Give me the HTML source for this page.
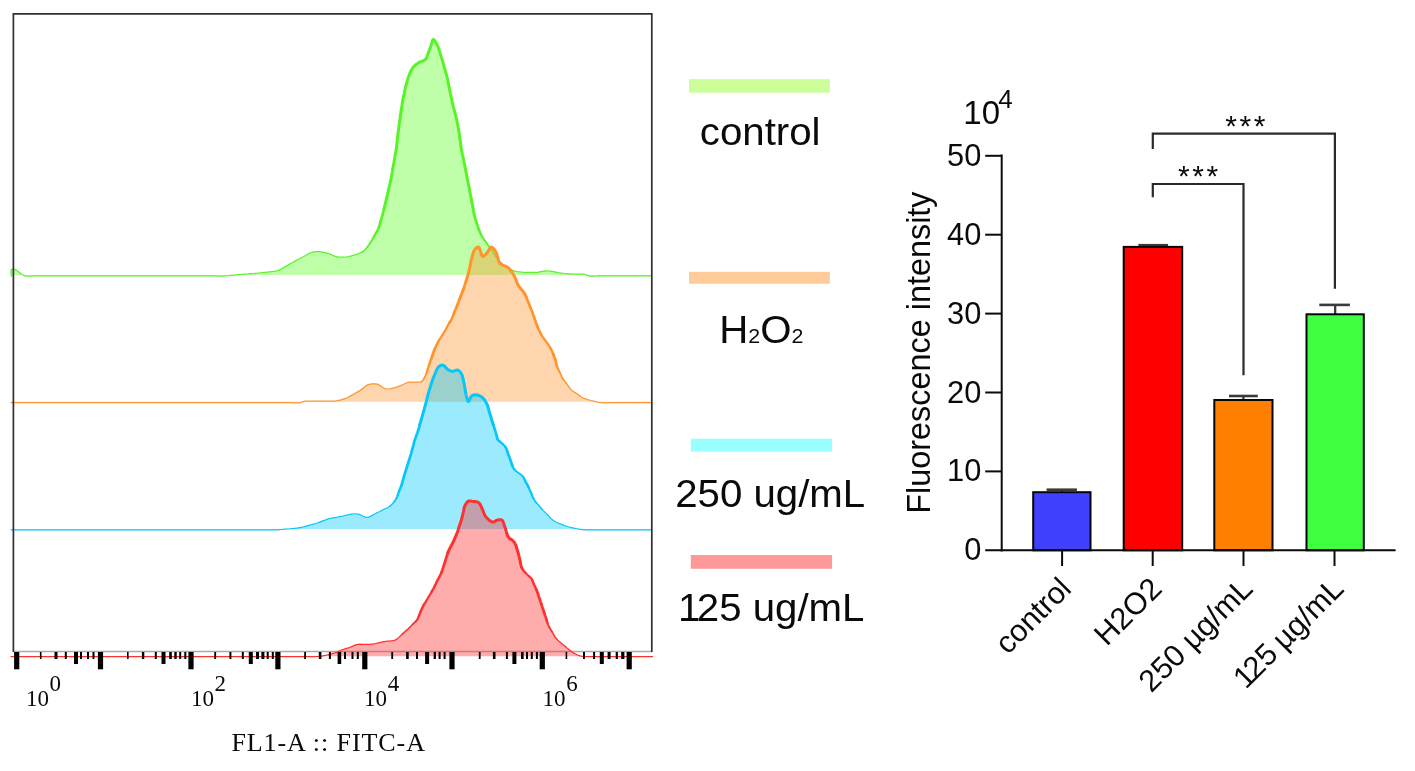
<!DOCTYPE html>
<html lang="en">
<head>
<meta charset="utf-8">
<title>Fluorescence intensity figure</title>
<style>
html,body{margin:0;padding:0;background:#fff;}
body{width:1415px;height:771px;overflow:hidden;}
svg{display:block;}
text{fill:#0a0a0a;}
</style>
</head>
<body>
<svg width="1415" height="771" viewBox="0 0 1415 771">
<rect width="1415" height="771" fill="#fff"/>
<!-- flow histogram -->
<line x1="13.4" y1="651.5" x2="652" y2="651.5" stroke="#aaaaaa" stroke-width="1.6"/>
<polygon points="11.4,276.2 11.3,275.3 11.1,273.1 11.0,270.8 11.4,269.3 12.8,269.0 14.5,269.3 15.7,269.8 16.8,270.6 18.0,271.5 19.3,272.5 20.7,273.6 22.0,274.5 23.6,275.3 25.5,275.9 26.8,276.1 28.3,276.1 30.0,276.1 31.8,276.1 33.7,276.0 35.5,275.9 37.2,275.9 38.9,275.9 40.6,275.9 42.3,275.9 43.9,275.9 45.6,275.9 47.3,275.9 49.0,275.9 50.6,275.9 52.3,275.9 54.0,275.9 55.7,275.9 57.4,275.9 59.0,275.9 60.7,275.9 62.4,275.9 64.1,275.9 65.7,275.9 67.4,275.9 69.1,275.9 70.8,275.9 72.4,275.9 74.1,275.9 75.8,275.9 77.5,275.9 79.1,275.9 80.8,275.9 82.5,275.9 84.2,275.9 85.9,275.9 87.5,275.9 89.2,275.9 90.9,275.9 92.6,275.9 94.2,275.9 95.9,275.9 97.6,275.9 99.3,275.9 100.9,275.9 102.6,275.9 104.3,275.9 106.0,275.9 107.6,275.9 109.3,275.9 111.0,275.9 112.7,275.9 114.4,275.9 116.0,275.9 117.7,275.9 119.4,275.9 121.1,275.9 122.7,275.9 124.4,275.9 126.1,275.9 127.8,275.9 129.4,275.9 131.1,275.9 132.8,275.9 134.5,275.9 136.1,275.9 137.8,275.9 139.5,275.9 141.2,275.9 142.9,275.9 144.5,275.9 146.2,275.9 147.9,275.9 149.6,275.9 151.2,275.9 152.9,275.9 154.6,275.9 156.3,275.9 157.9,275.9 159.6,275.9 161.3,275.9 163.0,275.9 164.6,275.9 166.3,275.9 168.0,275.9 169.7,275.9 171.4,275.9 173.0,275.9 174.7,275.9 176.4,275.9 178.1,275.9 179.7,275.9 181.4,275.9 183.1,275.9 184.8,275.9 186.4,275.9 188.1,275.9 189.8,275.9 191.5,275.9 193.1,275.9 194.8,275.9 196.5,275.9 198.2,275.9 199.9,275.9 201.5,275.9 203.2,275.9 204.9,275.9 206.6,275.9 208.2,275.9 209.9,275.9 211.6,275.9 213.3,275.9 215.0,275.9 216.7,275.9 218.4,276.0 220.2,276.0 221.8,276.0 223.5,276.0 225.0,275.9 226.6,275.8 228.1,275.7 229.6,275.5 231.0,275.3 232.5,275.2 234.0,275.1 235.5,274.9 237.0,274.8 238.5,274.6 240.0,274.5 241.7,274.4 243.4,274.2 245.1,274.1 246.8,274.0 248.6,273.9 250.3,273.7 252.0,273.6 253.8,273.5 255.5,273.3 257.1,273.2 258.8,273.0 260.4,272.9 262.0,272.7 263.6,272.5 265.1,272.3 266.7,272.2 268.3,272.0 270.0,271.8 271.6,271.6 273.3,271.4 275.1,271.1 276.8,270.8 278.5,270.3 280.0,269.7 281.4,268.9 282.9,268.1 284.3,267.2 285.7,266.4 287.0,265.6 288.3,264.9 289.6,264.1 290.9,263.4 292.2,262.8 293.4,262.1 294.7,261.3 296.0,260.6 297.3,259.9 298.6,259.2 299.9,258.5 301.3,257.7 302.8,257.0 304.2,256.2 305.6,255.5 307.0,254.7 308.4,253.9 309.8,253.1 311.3,252.5 312.8,252.1 314.4,251.8 316.0,251.6 317.7,251.6 319.1,251.7 320.6,251.8 322.2,252.1 323.8,252.4 325.4,252.7 326.9,253.1 328.4,253.5 329.9,254.0 331.3,254.6 332.8,255.3 334.2,255.9 335.6,256.4 337.0,256.8 338.7,257.1 340.4,257.2 342.1,257.2 343.8,257.2 345.6,257.0 347.2,256.8 348.8,256.5 350.5,256.1 352.3,255.7 353.9,255.2 355.5,254.7 357.0,254.2 358.6,253.6 360.0,253.0 361.4,252.4 362.8,251.6 364.1,250.6 365.2,249.6 366.3,248.3 367.4,247.0 368.4,245.5 369.4,244.1 370.4,242.7 371.2,241.4 372.0,240.1 372.8,238.8 373.4,237.5 374.1,236.2 374.8,234.9 375.5,233.7 376.3,232.4 377.1,231.1 377.8,229.8 378.4,228.5 378.9,227.1 379.4,225.7 379.8,224.3 380.1,222.8 380.5,221.4 381.0,220.0 381.4,218.6 381.9,217.1 382.3,215.7 382.7,214.3 383.1,212.9 383.4,211.4 383.8,210.0 384.1,208.6 384.4,207.2 384.8,205.7 385.1,204.4 385.5,203.0 385.8,201.5 386.2,200.0 386.5,198.5 386.9,196.9 387.3,195.3 387.7,193.6 388.0,191.9 388.4,190.2 388.8,188.5 389.2,186.8 389.6,185.2 390.0,183.5 390.3,181.9 390.7,180.2 391.1,178.6 391.4,177.0 391.7,175.4 392.0,173.8 392.3,172.2 392.5,170.6 392.8,169.1 393.0,167.5 393.3,165.9 393.6,164.3 393.9,162.8 394.1,161.2 394.4,159.6 394.7,158.0 394.9,156.4 395.2,154.8 395.5,153.2 395.8,151.7 396.1,150.1 396.3,148.5 396.5,146.9 396.7,145.4 396.9,143.8 397.1,142.3 397.2,140.7 397.4,139.2 397.6,137.6 397.8,136.0 397.9,134.4 398.1,132.9 398.3,131.3 398.5,129.8 398.7,128.2 398.9,126.6 399.1,125.0 399.3,123.5 399.6,121.9 399.8,120.3 400.0,118.7 400.2,117.1 400.4,115.6 400.6,114.0 400.9,112.2 401.1,110.4 401.4,108.7 401.7,107.0 402.0,105.2 402.2,103.4 402.5,101.6 402.8,99.9 403.1,98.3 403.5,96.7 403.8,95.1 404.2,93.5 404.5,91.9 404.8,90.3 405.2,88.7 405.6,87.0 405.9,85.7 406.3,84.3 406.7,82.8 407.1,81.3 407.5,79.9 408.0,78.4 408.5,77.0 409.1,75.4 409.7,73.7 410.4,72.1 411.1,70.6 411.9,69.1 412.8,67.8 413.8,66.6 414.9,65.5 416.0,64.6 417.3,63.7 418.5,62.8 419.9,62.0 421.5,61.4 423.0,60.8 424.4,60.1 425.6,59.2 426.6,57.8 427.3,56.2 427.8,54.5 428.4,52.8 429.0,51.1 429.7,49.4 430.3,47.7 430.9,46.0 431.5,44.1 432.1,41.9 432.7,40.1 433.4,39.3 434.6,40.3 435.8,42.3 436.5,43.5 437.2,44.9 437.8,46.3 438.4,47.8 439.0,49.4 439.5,51.1 440.0,52.9 440.5,54.6 441.1,56.3 441.6,58.0 442.2,59.7 442.7,61.4 443.1,62.9 443.6,64.5 444.0,66.1 444.4,67.6 444.9,69.2 445.3,70.8 445.7,72.3 446.2,73.8 446.6,75.4 447.0,77.0 447.4,78.7 447.8,80.4 448.1,82.1 448.4,83.9 448.8,85.6 449.2,87.3 449.5,89.1 449.9,90.8 450.2,92.5 450.6,94.2 450.9,95.7 451.2,97.1 451.6,98.5 451.9,99.9 452.2,101.3 452.5,102.7 452.8,104.1 453.1,105.4 453.4,106.9 453.8,108.4 454.2,109.9 454.6,111.5 455.0,113.2 455.5,114.9 455.9,116.7 456.3,118.4 456.7,120.0 457.1,121.7 457.4,123.3 457.7,125.0 458.0,126.6 458.3,128.2 458.6,129.8 458.9,131.4 459.1,132.9 459.3,134.5 459.5,136.0 459.7,137.6 460.0,139.2 460.2,140.7 460.4,142.3 460.6,143.8 460.8,145.4 461.0,146.9 461.3,148.5 461.6,150.1 461.9,151.7 462.2,153.2 462.5,154.8 462.9,156.4 463.2,158.0 463.5,159.6 463.8,161.2 464.2,162.8 464.5,164.3 464.8,165.9 465.1,167.5 465.4,169.1 465.7,170.7 466.1,172.3 466.4,173.9 466.7,175.4 467.0,177.0 467.3,178.5 467.6,180.0 467.9,181.5 468.2,183.0 468.5,184.5 468.8,186.0 469.1,187.5 469.4,189.0 469.7,190.5 469.9,192.0 470.2,193.5 470.5,195.0 470.8,196.5 471.1,198.1 471.4,199.6 471.7,201.1 472.0,202.6 472.3,204.0 472.6,205.6 472.9,207.2 473.2,208.7 473.5,210.2 473.7,211.8 474.0,213.4 474.2,214.9 474.6,216.5 475.1,218.2 475.6,219.9 476.2,221.6 476.8,223.2 477.3,224.9 477.8,226.6 478.4,228.3 479.0,230.0 479.6,231.3 480.2,232.7 480.8,234.0 481.5,235.4 482.2,236.7 483.0,238.0 483.8,239.3 484.8,240.6 485.7,241.9 486.7,243.1 487.6,244.4 488.5,245.6 489.4,246.9 490.3,248.2 491.1,249.5 492.0,250.8 492.8,252.1 493.6,253.4 494.5,254.7 495.3,256.0 496.2,257.3 497.1,258.5 498.1,259.7 499.3,260.9 500.4,262.0 501.6,263.1 502.8,264.2 504.2,265.4 505.6,266.5 507.0,267.6 508.5,268.5 509.9,269.2 511.2,269.9 512.6,270.4 514.2,270.9 515.7,271.3 517.4,271.6 519.1,271.8 520.9,272.0 522.6,272.2 524.2,272.3 525.9,272.4 527.5,272.4 529.0,272.3 530.6,272.3 532.2,272.3 533.7,272.4 535.3,272.4 537.0,272.3 538.7,272.1 540.4,271.7 542.2,271.4 544.0,271.1 545.6,270.9 547.1,270.9 548.5,271.0 549.8,271.1 551.3,271.3 552.9,271.6 554.7,271.9 556.4,272.3 558.2,272.7 559.9,273.0 561.7,273.2 563.5,273.4 565.2,273.5 567.0,273.6 568.7,273.8 570.4,273.9 572.2,274.1 574.1,274.2 575.7,274.2 577.4,274.2 579.2,274.2 581.0,274.2 582.7,274.2 584.3,274.3 585.5,274.5 587.0,275.2 588.4,275.9 589.5,276.1 590.9,276.1 592.4,276.1 594.0,276.1 595.7,276.0 597.3,275.9 598.9,275.9 600.4,275.9 601.9,275.9 603.4,275.9 604.8,275.9 606.3,275.9 607.8,275.9 609.3,275.9 610.8,275.9 612.3,275.9 613.8,275.9 615.3,275.9 616.8,275.9 618.3,275.9 619.8,275.9 621.3,275.9 622.8,275.9 624.3,275.9 625.8,275.9 627.3,275.9 628.8,275.9 630.3,275.9 631.8,275.9 633.3,275.9 634.8,275.9 636.2,275.9 637.7,275.9 639.2,275.9 640.7,275.9 642.4,275.9 644.3,275.9 646.3,275.9 648.2,275.9 649.7,275.9 650.8,275.9 651.2,275.9 651.2,275.0 11.4,275.0" fill="#60ff28" fill-opacity="0.4"/>
<g fill="none" stroke="#58f328" stroke-linejoin="round" stroke-linecap="round">
<polyline stroke-width="1.25" points="11.4,276.2 11.3,275.3 11.1,273.1 11.0,270.8 11.4,269.3 12.8,269.0 14.5,269.3 15.7,269.8 16.8,270.6 18.0,271.5 19.3,272.5 20.7,273.6 22.0,274.5 23.6,275.3 25.5,275.9 26.8,276.1 28.3,276.1 30.0,276.1 31.8,276.1 33.7,276.0 35.5,275.9 37.2,275.9 38.9,275.9 40.6,275.9 42.3,275.9 43.9,275.9 45.6,275.9 47.3,275.9 49.0,275.9 50.6,275.9 52.3,275.9 54.0,275.9 55.7,275.9 57.4,275.9 59.0,275.9 60.7,275.9 62.4,275.9 64.1,275.9 65.7,275.9 67.4,275.9 69.1,275.9 70.8,275.9 72.4,275.9 74.1,275.9 75.8,275.9 77.5,275.9 79.1,275.9 80.8,275.9 82.5,275.9 84.2,275.9 85.9,275.9 87.5,275.9 89.2,275.9 90.9,275.9 92.6,275.9 94.2,275.9 95.9,275.9 97.6,275.9 99.3,275.9 100.9,275.9 102.6,275.9 104.3,275.9 106.0,275.9 107.6,275.9 109.3,275.9 111.0,275.9 112.7,275.9 114.4,275.9 116.0,275.9 117.7,275.9 119.4,275.9 121.1,275.9 122.7,275.9 124.4,275.9 126.1,275.9 127.8,275.9 129.4,275.9 131.1,275.9 132.8,275.9 134.5,275.9 136.1,275.9 137.8,275.9 139.5,275.9 141.2,275.9 142.9,275.9 144.5,275.9 146.2,275.9 147.9,275.9 149.6,275.9 151.2,275.9 152.9,275.9 154.6,275.9 156.3,275.9 157.9,275.9 159.6,275.9 161.3,275.9 163.0,275.9 164.6,275.9 166.3,275.9 168.0,275.9 169.7,275.9 171.4,275.9 173.0,275.9 174.7,275.9 176.4,275.9 178.1,275.9 179.7,275.9 181.4,275.9 183.1,275.9 184.8,275.9 186.4,275.9 188.1,275.9 189.8,275.9 191.5,275.9 193.1,275.9 194.8,275.9 196.5,275.9 198.2,275.9 199.9,275.9 201.5,275.9 203.2,275.9 204.9,275.9 206.6,275.9 208.2,275.9 209.9,275.9 211.6,275.9 213.3,275.9 215.0,275.9 216.7,275.9 218.4,276.0 220.2,276.0 221.8,276.0 223.5,276.0 225.0,275.9 226.6,275.8 228.1,275.7 229.6,275.5 231.0,275.3 232.5,275.2 234.0,275.1 235.5,274.9 237.0,274.8 238.5,274.6 240.0,274.5 241.7,274.4 243.4,274.2 245.1,274.1 246.8,274.0 248.6,273.9 250.3,273.7 252.0,273.6 253.8,273.5 255.5,273.3 257.1,273.2 258.8,273.0 260.4,272.9 262.0,272.7 263.6,272.5 265.1,272.3 266.7,272.2 268.3,272.0 270.0,271.8 271.6,271.6 273.3,271.4 275.1,271.1 276.8,270.8 278.5,270.3 280.0,269.7 281.4,268.9 282.9,268.1 284.3,267.2 285.7,266.4 287.0,265.6 288.3,264.9 289.6,264.1 290.9,263.4 292.2,262.8 293.4,262.1 294.7,261.3 296.0,260.6 297.3,259.9 298.6,259.2 299.9,258.5 301.3,257.7 302.8,257.0 304.2,256.2 305.6,255.5 307.0,254.7 308.4,253.9 309.8,253.1 311.3,252.5 312.8,252.1 314.4,251.8 316.0,251.6 317.7,251.6 319.1,251.7 320.6,251.8 322.2,252.1 323.8,252.4 325.4,252.7 326.9,253.1 328.4,253.5 329.9,254.0 331.3,254.6 332.8,255.3 334.2,255.9 335.6,256.4 337.0,256.8 338.7,257.1 340.4,257.2 342.1,257.2 343.8,257.2 345.6,257.0 347.2,256.8 348.8,256.5 350.5,256.1 352.3,255.7 353.9,255.2 355.5,254.7 357.0,254.2 358.6,253.6 360.0,253.0 361.4,252.4 362.8,251.6"/>
<polyline stroke-width="1.5" points="362.8,251.6 364.1,250.6 365.2,249.6 366.3,248.3 367.4,247.0"/>
<polyline stroke-width="1.75" points="367.4,247.0 368.4,245.5 369.4,244.1 370.4,242.7"/>
<polyline stroke-width="2" points="370.4,242.7 371.2,241.4 372.0,240.1 372.8,238.8 373.4,237.5"/>
<polyline stroke-width="2.25" points="373.4,237.5 374.1,236.2 374.8,234.9 375.5,233.7 376.3,232.4 377.1,231.1"/>
<polyline stroke-width="2.5" points="377.1,231.1 377.8,229.8 378.4,228.5 378.9,227.1"/>
<polyline stroke-width="2.75" points="378.9,227.1 379.4,225.7 379.8,224.3 380.1,222.8 380.5,221.4 381.0,220.0 381.4,218.6 381.9,217.1 382.3,215.7 382.7,214.3 383.1,212.9 383.4,211.4 383.8,210.0 384.1,208.6"/>
<polyline stroke-width="3" points="384.1,208.6 384.4,207.2 384.8,205.7 385.1,204.4 385.5,203.0 385.8,201.5 386.2,200.0 386.5,198.5 386.9,196.9 387.3,195.3 387.7,193.6 388.0,191.9 388.4,190.2 388.8,188.5 389.2,186.8 389.6,185.2 390.0,183.5 390.3,181.9 390.7,180.2 391.1,178.6 391.4,177.0 391.7,175.4 392.0,173.8 392.3,172.2 392.5,170.6 392.8,169.1 393.0,167.5 393.3,165.9 393.6,164.3 393.9,162.8 394.1,161.2 394.4,159.6 394.7,158.0 394.9,156.4 395.2,154.8 395.5,153.2 395.8,151.7 396.1,150.1 396.3,148.5 396.5,146.9 396.7,145.4 396.9,143.8 397.1,142.3 397.2,140.7 397.4,139.2 397.6,137.6 397.8,136.0 397.9,134.4 398.1,132.9 398.3,131.3 398.5,129.8 398.7,128.2 398.9,126.6 399.1,125.0 399.3,123.5 399.6,121.9 399.8,120.3 400.0,118.7 400.2,117.1 400.4,115.6 400.6,114.0 400.9,112.2 401.1,110.4 401.4,108.7 401.7,107.0 402.0,105.2 402.2,103.4 402.5,101.6 402.8,99.9 403.1,98.3 403.5,96.7 403.8,95.1 404.2,93.5 404.5,91.9 404.8,90.3 405.2,88.7 405.6,87.0 405.9,85.7 406.3,84.3 406.7,82.8 407.1,81.3 407.5,79.9 408.0,78.4 408.5,77.0 409.1,75.4 409.7,73.7 410.4,72.1 411.1,70.6 411.9,69.1 412.8,67.8 413.8,66.6 414.9,65.5 416.0,64.6 417.3,63.7 418.5,62.8 419.9,62.0 421.5,61.4 423.0,60.8 424.4,60.1 425.6,59.2 426.6,57.8 427.3,56.2 427.8,54.5 428.4,52.8 429.0,51.1 429.7,49.4 430.3,47.7 430.9,46.0 431.5,44.1 432.1,41.9 432.7,40.1 433.4,39.3 434.6,40.3 435.8,42.3 436.5,43.5 437.2,44.9 437.8,46.3 438.4,47.8 439.0,49.4 439.5,51.1 440.0,52.9 440.5,54.6 441.1,56.3 441.6,58.0 442.2,59.7 442.7,61.4 443.1,62.9 443.6,64.5 444.0,66.1 444.4,67.6 444.9,69.2 445.3,70.8 445.7,72.3 446.2,73.8 446.6,75.4 447.0,77.0 447.4,78.7 447.8,80.4 448.1,82.1 448.4,83.9 448.8,85.6 449.2,87.3 449.5,89.1 449.9,90.8 450.2,92.5 450.6,94.2 450.9,95.7 451.2,97.1 451.6,98.5 451.9,99.9 452.2,101.3 452.5,102.7 452.8,104.1 453.1,105.4 453.4,106.9 453.8,108.4 454.2,109.9 454.6,111.5 455.0,113.2 455.5,114.9 455.9,116.7 456.3,118.4 456.7,120.0 457.1,121.7 457.4,123.3 457.7,125.0 458.0,126.6 458.3,128.2 458.6,129.8 458.9,131.4 459.1,132.9 459.3,134.5 459.5,136.0 459.7,137.6 460.0,139.2 460.2,140.7 460.4,142.3 460.6,143.8 460.8,145.4 461.0,146.9 461.3,148.5 461.6,150.1 461.9,151.7 462.2,153.2 462.5,154.8 462.9,156.4 463.2,158.0 463.5,159.6 463.8,161.2 464.2,162.8 464.5,164.3 464.8,165.9 465.1,167.5 465.4,169.1 465.7,170.7 466.1,172.3 466.4,173.9 466.7,175.4 467.0,177.0 467.3,178.5 467.6,180.0 467.9,181.5 468.2,183.0 468.5,184.5 468.8,186.0 469.1,187.5 469.4,189.0 469.7,190.5 469.9,192.0 470.2,193.5 470.5,195.0 470.8,196.5 471.1,198.1 471.4,199.6 471.7,201.1 472.0,202.6 472.3,204.0 472.6,205.6 472.9,207.2 473.2,208.7 473.5,210.2 473.7,211.8 474.0,213.4 474.2,214.9"/>
<polyline stroke-width="2.75" points="474.2,214.9 474.6,216.5 475.1,218.2 475.6,219.9 476.2,221.6 476.8,223.2 477.3,224.9 477.8,226.6 478.4,228.3 479.0,230.0"/>
<polyline stroke-width="2.5" points="479.0,230.0 479.6,231.3 480.2,232.7 480.8,234.0"/>
<polyline stroke-width="2.25" points="480.8,234.0 481.5,235.4 482.2,236.7"/>
<polyline stroke-width="2" points="482.2,236.7 483.0,238.0 483.8,239.3 484.8,240.6"/>
<polyline stroke-width="1.75" points="484.8,240.6 485.7,241.9 486.7,243.1 487.6,244.4 488.5,245.6 489.4,246.9 490.3,248.2"/>
<polyline stroke-width="1.5" points="490.3,248.2 491.1,249.5 492.0,250.8 492.8,252.1 493.6,253.4 494.5,254.7 495.3,256.0 496.2,257.3"/>
<polyline stroke-width="1.25" points="496.2,257.3 497.1,258.5 498.1,259.7 499.3,260.9 500.4,262.0 501.6,263.1 502.8,264.2 504.2,265.4 505.6,266.5 507.0,267.6 508.5,268.5 509.9,269.2 511.2,269.9 512.6,270.4 514.2,270.9 515.7,271.3 517.4,271.6 519.1,271.8 520.9,272.0 522.6,272.2 524.2,272.3 525.9,272.4 527.5,272.4 529.0,272.3 530.6,272.3 532.2,272.3 533.7,272.4 535.3,272.4 537.0,272.3 538.7,272.1 540.4,271.7 542.2,271.4 544.0,271.1 545.6,270.9 547.1,270.9 548.5,271.0 549.8,271.1 551.3,271.3 552.9,271.6 554.7,271.9 556.4,272.3 558.2,272.7 559.9,273.0 561.7,273.2 563.5,273.4 565.2,273.5 567.0,273.6 568.7,273.8 570.4,273.9 572.2,274.1 574.1,274.2 575.7,274.2 577.4,274.2 579.2,274.2 581.0,274.2 582.7,274.2 584.3,274.3 585.5,274.5 587.0,275.2 588.4,275.9 589.5,276.1 590.9,276.1 592.4,276.1 594.0,276.1 595.7,276.0 597.3,275.9 598.9,275.9 600.4,275.9 601.9,275.9 603.4,275.9 604.8,275.9 606.3,275.9 607.8,275.9 609.3,275.9 610.8,275.9 612.3,275.9 613.8,275.9 615.3,275.9 616.8,275.9 618.3,275.9 619.8,275.9 621.3,275.9 622.8,275.9 624.3,275.9 625.8,275.9 627.3,275.9 628.8,275.9 630.3,275.9 631.8,275.9 633.3,275.9 634.8,275.9 636.2,275.9 637.7,275.9 639.2,275.9 640.7,275.9 642.4,275.9 644.3,275.9 646.3,275.9 648.2,275.9 649.7,275.9 650.8,275.9 651.2,275.9"/>
</g>
<polygon points="11.1,402.7 11.5,402.7 12.7,402.7 14.4,402.7 16.5,402.7 18.7,402.7 20.8,402.7 22.7,402.7 24.3,402.7 26.0,402.7 27.6,402.7 29.3,402.7 30.9,402.7 32.6,402.7 34.2,402.7 35.9,402.7 37.5,402.7 39.2,402.7 40.8,402.7 42.5,402.7 44.1,402.7 45.8,402.7 47.4,402.7 49.1,402.7 50.7,402.7 52.4,402.7 54.0,402.7 55.7,402.7 57.3,402.7 59.0,402.7 60.6,402.7 62.3,402.7 63.9,402.7 65.6,402.7 67.2,402.7 68.9,402.7 70.5,402.7 72.2,402.7 73.8,402.7 75.5,402.7 77.1,402.7 78.8,402.7 80.4,402.7 82.1,402.7 83.7,402.7 85.4,402.7 87.0,402.7 88.7,402.7 90.3,402.7 92.0,402.7 93.6,402.7 95.3,402.7 96.9,402.7 98.6,402.7 100.2,402.7 101.9,402.7 103.5,402.7 105.2,402.7 106.8,402.7 108.5,402.7 110.2,402.7 111.8,402.7 113.5,402.7 115.1,402.7 116.8,402.7 118.4,402.7 120.1,402.7 121.7,402.7 123.4,402.7 125.0,402.7 126.7,402.7 128.3,402.7 130.0,402.7 131.6,402.7 133.3,402.7 134.9,402.7 136.6,402.7 138.2,402.7 139.9,402.7 141.5,402.7 143.2,402.7 144.8,402.7 146.5,402.7 148.1,402.7 149.8,402.7 151.4,402.7 153.1,402.7 154.7,402.7 156.4,402.7 158.0,402.7 159.7,402.7 161.3,402.7 163.0,402.7 164.6,402.7 166.3,402.7 167.9,402.7 169.6,402.7 171.2,402.7 172.9,402.7 174.5,402.7 176.2,402.7 177.8,402.7 179.5,402.7 181.1,402.7 182.8,402.7 184.4,402.7 186.1,402.7 187.7,402.7 189.4,402.7 191.0,402.7 192.7,402.7 194.3,402.7 196.0,402.7 197.6,402.7 199.3,402.7 200.9,402.7 202.6,402.7 204.3,402.7 205.9,402.7 207.6,402.7 209.2,402.7 210.9,402.7 212.5,402.7 214.2,402.7 215.8,402.7 217.5,402.7 219.1,402.7 220.8,402.7 222.4,402.7 224.1,402.7 225.7,402.7 227.4,402.7 229.0,402.7 230.7,402.7 232.3,402.7 234.0,402.7 235.6,402.7 237.3,402.7 238.9,402.7 240.6,402.7 242.2,402.7 243.9,402.7 245.5,402.7 247.2,402.7 248.8,402.7 250.5,402.7 252.1,402.7 253.8,402.7 255.4,402.7 257.1,402.7 258.7,402.7 260.4,402.7 262.0,402.7 263.7,402.7 265.3,402.7 267.0,402.7 268.6,402.7 270.3,402.7 271.9,402.7 273.6,402.7 275.2,402.7 276.9,402.7 278.5,402.7 280.2,402.7 281.8,402.7 283.5,402.7 285.1,402.7 286.8,402.7 288.4,402.7 290.1,402.7 291.9,402.8 293.7,402.8 295.5,402.9 297.1,402.9 298.7,402.8 300.0,402.7 301.5,402.3 302.8,401.7 304.3,401.3 305.5,401.2 306.9,401.1 308.5,401.1 310.0,401.1 311.6,401.2 313.2,401.2 314.8,401.2 316.3,401.2 317.8,401.2 319.3,401.2 320.7,401.1 322.2,401.1 323.7,401.1 325.2,401.1 326.7,401.1 328.2,401.2 329.7,401.2 331.2,401.2 332.7,401.2 334.2,401.2 335.7,401.0 337.3,400.7 339.0,400.3 340.8,399.9 342.5,399.4 344.1,398.8 345.7,398.3 347.1,397.7 348.5,397.0 349.8,396.3 351.0,395.6 352.3,394.9 353.5,394.1 354.8,393.5 356.0,392.8 357.3,392.1 358.6,391.4 359.9,390.6 361.1,389.8 362.3,388.8 363.5,387.8 364.7,386.8 365.9,385.9 367.2,385.1 368.5,384.5 370.2,384.1 371.9,383.8 373.6,383.8 375.3,383.9 377.0,384.2 378.5,384.7 379.9,385.6 381.4,386.5 382.8,387.5 384.2,388.3 385.6,388.8 387.4,389.0 389.2,388.9 390.9,388.6 392.7,388.2 394.1,387.9 395.6,387.4 397.0,387.0 398.4,386.4 399.9,385.9 401.3,385.3 402.7,384.7 404.2,384.0 405.6,383.3 407.0,382.7 408.4,382.3 410.1,382.0 411.7,382.0 413.3,382.0 414.9,382.0 416.5,382.0 418.2,382.1 419.9,382.0 421.3,381.6 422.3,380.8 423.3,379.7 424.1,378.3 424.8,376.9 425.5,375.6 426.2,374.0 426.7,372.4 427.2,370.8 427.6,369.2 428.2,367.6 428.7,366.0 429.3,364.4 429.8,362.8 430.3,361.3 430.9,359.8 431.4,358.3 432.0,356.8 432.5,355.3 433.0,353.8 433.5,352.3 434.1,350.7 434.7,349.2 435.4,347.6 436.1,346.0 436.9,344.4 437.7,342.8 438.4,341.4 439.3,339.9 440.2,338.4 441.1,337.1 441.9,335.7 442.8,334.3 443.8,332.9 444.6,331.4 445.5,330.0 446.3,328.5 447.0,327.0 447.8,325.6 448.5,324.2 449.4,322.8 450.3,321.5 451.2,320.0 451.8,318.7 452.4,317.3 453.0,315.8 453.6,314.3 454.1,312.8 454.7,311.4 455.3,310.0 455.9,308.5 456.5,307.1 457.1,305.6 457.7,304.1 458.3,302.6 458.9,301.0 459.5,299.5 460.1,297.9 460.6,296.4 461.3,294.8 461.9,293.2 462.5,291.7 463.1,290.1 463.7,288.6 464.2,287.1 464.7,285.6 465.1,284.2 465.5,282.8 465.9,281.4 466.4,280.0 466.8,278.5 467.2,277.1 467.7,275.7 468.1,274.3 468.5,272.8 468.9,271.3 469.2,269.7 469.6,268.1 469.9,266.5 470.2,265.0 470.6,263.4 470.9,261.8 471.2,260.2 471.6,258.7 472.0,257.1 472.5,255.4 473.0,253.7 473.5,252.0 474.1,250.5 474.9,249.3 476.0,248.1 477.3,247.3 478.5,247.1 479.3,247.9 480.0,249.7 480.6,251.8 481.2,253.9 481.9,255.6 482.7,256.4 483.7,256.2 484.8,255.2 485.9,254.0 487.0,252.8 488.1,251.2 489.2,249.4 490.2,247.8 491.3,247.1 492.4,247.5 493.6,248.6 494.7,250.0 495.6,251.4 496.3,252.8 496.8,254.3 497.3,255.9 497.8,257.4 498.2,259.0 498.6,260.6 499.1,262.1 499.9,263.5 501.0,264.4 502.4,265.1 503.9,265.6 505.5,266.2 507.1,266.9 508.4,267.8 509.5,268.9 510.6,270.1 511.5,271.4 512.4,272.8 513.3,274.2 514.1,275.6 514.8,277.0 515.4,278.4 516.0,279.9 516.5,281.4 517.1,282.9 517.7,284.3 518.4,285.6 519.3,286.9 520.3,288.1 521.3,289.3 522.3,290.4 523.3,291.6 524.1,292.8 524.9,294.2 525.6,295.7 526.2,297.1 526.8,298.6 527.4,300.0 528.1,301.7 528.8,303.3 529.4,305.0 530.0,306.6 530.7,308.2 531.4,309.9 532.1,311.5 532.7,313.2 533.3,314.9 533.9,316.5 534.5,318.2 535.0,319.9 535.6,321.5 536.1,323.1 536.7,324.8 537.4,326.5 538.0,328.0 538.7,329.5 539.5,331.1 540.3,332.7 541.1,334.3 542.0,335.8 542.8,337.1 543.7,338.3 544.6,339.6 545.6,340.8 546.5,342.0 547.4,343.2 548.2,344.4 549.1,345.8 549.9,347.2 550.7,348.6 551.4,349.9 552.1,351.4 552.7,352.8 553.3,354.2 553.8,355.6 554.3,357.1 554.8,358.5 555.3,359.9 555.8,361.4 556.2,362.9 556.5,364.3 556.9,365.7 557.4,367.1 558.0,368.6 558.7,370.0 559.4,371.4 560.0,372.8 560.7,374.2 561.3,375.7 561.9,377.1 562.7,378.5 563.7,380.0 564.8,381.4 565.9,382.8 567.0,384.2 568.0,385.7 569.1,387.2 570.1,388.6 571.3,389.9 572.6,391.0 574.1,392.0 575.5,392.9 577.0,393.8 578.4,394.8 579.7,395.8 581.1,396.8 582.7,397.7 584.1,398.3 585.7,398.9 587.4,399.5 589.2,400.0 590.9,400.5 592.6,400.9 594.1,401.3 595.6,401.7 597.0,402.0 598.4,402.3 599.8,402.5 601.3,402.7 602.9,402.8 604.5,402.8 606.2,402.8 607.9,402.8 609.6,402.7 611.3,402.7 612.9,402.7 614.6,402.7 616.3,402.7 617.9,402.7 619.6,402.7 621.3,402.7 622.9,402.7 624.6,402.7 626.2,402.7 627.9,402.7 629.6,402.7 631.2,402.7 632.9,402.7 634.6,402.7 636.2,402.7 637.9,402.7 639.6,402.7 641.2,402.7 643.1,402.7 645.3,402.7 647.5,402.7 649.4,402.7 650.7,402.7 651.2,402.7 651.2,401.8 11.1,401.8" fill="#ff9632" fill-opacity="0.4"/>
<g fill="none" stroke="#ff942c" stroke-linejoin="round" stroke-linecap="round">
<polyline stroke-width="1.25" points="11.1,402.7 11.5,402.7 12.7,402.7 14.4,402.7 16.5,402.7 18.7,402.7 20.8,402.7 22.7,402.7 24.3,402.7 26.0,402.7 27.6,402.7 29.3,402.7 30.9,402.7 32.6,402.7 34.2,402.7 35.9,402.7 37.5,402.7 39.2,402.7 40.8,402.7 42.5,402.7 44.1,402.7 45.8,402.7 47.4,402.7 49.1,402.7 50.7,402.7 52.4,402.7 54.0,402.7 55.7,402.7 57.3,402.7 59.0,402.7 60.6,402.7 62.3,402.7 63.9,402.7 65.6,402.7 67.2,402.7 68.9,402.7 70.5,402.7 72.2,402.7 73.8,402.7 75.5,402.7 77.1,402.7 78.8,402.7 80.4,402.7 82.1,402.7 83.7,402.7 85.4,402.7 87.0,402.7 88.7,402.7 90.3,402.7 92.0,402.7 93.6,402.7 95.3,402.7 96.9,402.7 98.6,402.7 100.2,402.7 101.9,402.7 103.5,402.7 105.2,402.7 106.8,402.7 108.5,402.7 110.2,402.7 111.8,402.7 113.5,402.7 115.1,402.7 116.8,402.7 118.4,402.7 120.1,402.7 121.7,402.7 123.4,402.7 125.0,402.7 126.7,402.7 128.3,402.7 130.0,402.7 131.6,402.7 133.3,402.7 134.9,402.7 136.6,402.7 138.2,402.7 139.9,402.7 141.5,402.7 143.2,402.7 144.8,402.7 146.5,402.7 148.1,402.7 149.8,402.7 151.4,402.7 153.1,402.7 154.7,402.7 156.4,402.7 158.0,402.7 159.7,402.7 161.3,402.7 163.0,402.7 164.6,402.7 166.3,402.7 167.9,402.7 169.6,402.7 171.2,402.7 172.9,402.7 174.5,402.7 176.2,402.7 177.8,402.7 179.5,402.7 181.1,402.7 182.8,402.7 184.4,402.7 186.1,402.7 187.7,402.7 189.4,402.7 191.0,402.7 192.7,402.7 194.3,402.7 196.0,402.7 197.6,402.7 199.3,402.7 200.9,402.7 202.6,402.7 204.3,402.7 205.9,402.7 207.6,402.7 209.2,402.7 210.9,402.7 212.5,402.7 214.2,402.7 215.8,402.7 217.5,402.7 219.1,402.7 220.8,402.7 222.4,402.7 224.1,402.7 225.7,402.7 227.4,402.7 229.0,402.7 230.7,402.7 232.3,402.7 234.0,402.7 235.6,402.7 237.3,402.7 238.9,402.7 240.6,402.7 242.2,402.7 243.9,402.7 245.5,402.7 247.2,402.7 248.8,402.7 250.5,402.7 252.1,402.7 253.8,402.7 255.4,402.7 257.1,402.7 258.7,402.7 260.4,402.7 262.0,402.7 263.7,402.7 265.3,402.7 267.0,402.7 268.6,402.7 270.3,402.7 271.9,402.7 273.6,402.7 275.2,402.7 276.9,402.7 278.5,402.7 280.2,402.7 281.8,402.7 283.5,402.7 285.1,402.7 286.8,402.7 288.4,402.7 290.1,402.7 291.9,402.8 293.7,402.8 295.5,402.9 297.1,402.9 298.7,402.8 300.0,402.7 301.5,402.3 302.8,401.7 304.3,401.3 305.5,401.2 306.9,401.1 308.5,401.1 310.0,401.1 311.6,401.2 313.2,401.2 314.8,401.2 316.3,401.2 317.8,401.2 319.3,401.2 320.7,401.1 322.2,401.1 323.7,401.1 325.2,401.1 326.7,401.1 328.2,401.2 329.7,401.2 331.2,401.2 332.7,401.2 334.2,401.2 335.7,401.0 337.3,400.7 339.0,400.3 340.8,399.9 342.5,399.4 344.1,398.8 345.7,398.3 347.1,397.7 348.5,397.0 349.8,396.3 351.0,395.6 352.3,394.9 353.5,394.1 354.8,393.5 356.0,392.8 357.3,392.1 358.6,391.4 359.9,390.6 361.1,389.8 362.3,388.8 363.5,387.8 364.7,386.8 365.9,385.9 367.2,385.1 368.5,384.5 370.2,384.1 371.9,383.8 373.6,383.8 375.3,383.9 377.0,384.2 378.5,384.7 379.9,385.6 381.4,386.5 382.8,387.5 384.2,388.3 385.6,388.8 387.4,389.0 389.2,388.9 390.9,388.6 392.7,388.2 394.1,387.9 395.6,387.4 397.0,387.0 398.4,386.4 399.9,385.9 401.3,385.3 402.7,384.7 404.2,384.0 405.6,383.3 407.0,382.7 408.4,382.3 410.1,382.0 411.7,382.0 413.3,382.0 414.9,382.0 416.5,382.0 418.2,382.1 419.9,382.0 421.3,381.6"/>
<polyline stroke-width="1.5" points="421.3,381.6 422.3,380.8 423.3,379.7 424.1,378.3"/>
<polyline stroke-width="1.75" points="424.1,378.3 424.8,376.9 425.5,375.6 426.2,374.0"/>
<polyline stroke-width="2" points="426.2,374.0 426.7,372.4 427.2,370.8"/>
<polyline stroke-width="2.25" points="427.2,370.8 427.6,369.2 428.2,367.6 428.7,366.0 429.3,364.4"/>
<polyline stroke-width="2.5" points="429.3,364.4 429.8,362.8 430.3,361.3 430.9,359.8 431.4,358.3"/>
<polyline stroke-width="2.75" points="431.4,358.3 432.0,356.8 432.5,355.3 433.0,353.8 433.5,352.3 434.1,350.7 434.7,349.2"/>
<polyline stroke-width="2.5" points="434.7,349.2 435.4,347.6 436.1,346.0 436.9,344.4 437.7,342.8 438.4,341.4"/>
<polyline stroke-width="2.25" points="438.4,341.4 439.3,339.9 440.2,338.4 441.1,337.1 441.9,335.7 442.8,334.3 443.8,332.9 444.6,331.4 445.5,330.0 446.3,328.5 447.0,327.0 447.8,325.6 448.5,324.2 449.4,322.8"/>
<polyline stroke-width="2.5" points="449.4,322.8 450.3,321.5 451.2,320.0 451.8,318.7 452.4,317.3 453.0,315.8 453.6,314.3"/>
<polyline stroke-width="2.75" points="453.6,314.3 454.1,312.8 454.7,311.4 455.3,310.0 455.9,308.5 456.5,307.1 457.1,305.6 457.7,304.1 458.3,302.6 458.9,301.0 459.5,299.5 460.1,297.9"/>
<polyline stroke-width="3" points="460.1,297.9 460.6,296.4 461.3,294.8 461.9,293.2 462.5,291.7 463.1,290.1 463.7,288.6 464.2,287.1 464.7,285.6 465.1,284.2 465.5,282.8 465.9,281.4 466.4,280.0 466.8,278.5 467.2,277.1 467.7,275.7 468.1,274.3 468.5,272.8 468.9,271.3 469.2,269.7 469.6,268.1 469.9,266.5 470.2,265.0 470.6,263.4 470.9,261.8 471.2,260.2 471.6,258.7 472.0,257.1 472.5,255.4 473.0,253.7 473.5,252.0 474.1,250.5 474.9,249.3 476.0,248.1 477.3,247.3 478.5,247.1 479.3,247.9 480.0,249.7 480.6,251.8 481.2,253.9 481.9,255.6 482.7,256.4 483.7,256.2 484.8,255.2 485.9,254.0 487.0,252.8 488.1,251.2 489.2,249.4 490.2,247.8 491.3,247.1 492.4,247.5 493.6,248.6 494.7,250.0 495.6,251.4 496.3,252.8 496.8,254.3 497.3,255.9 497.8,257.4 498.2,259.0 498.6,260.6 499.1,262.1 499.9,263.5 501.0,264.4 502.4,265.1 503.9,265.6 505.5,266.2 507.1,266.9 508.4,267.8 509.5,268.9 510.6,270.1 511.5,271.4 512.4,272.8 513.3,274.2 514.1,275.6 514.8,277.0 515.4,278.4 516.0,279.9 516.5,281.4 517.1,282.9 517.7,284.3 518.4,285.6 519.3,286.9 520.3,288.1 521.3,289.3 522.3,290.4 523.3,291.6 524.1,292.8 524.9,294.2 525.6,295.7 526.2,297.1"/>
<polyline stroke-width="2.75" points="526.2,297.1 526.8,298.6 527.4,300.0 528.1,301.7 528.8,303.3 529.4,305.0 530.0,306.6 530.7,308.2 531.4,309.9 532.1,311.5 532.7,313.2 533.3,314.9 533.9,316.5 534.5,318.2 535.0,319.9 535.6,321.5 536.1,323.1 536.7,324.8 537.4,326.5"/>
<polyline stroke-width="2.5" points="537.4,326.5 538.0,328.0 538.7,329.5 539.5,331.1 540.3,332.7 541.1,334.3"/>
<polyline stroke-width="2.25" points="541.1,334.3 542.0,335.8 542.8,337.1 543.7,338.3 544.6,339.6"/>
<polyline stroke-width="2" points="544.6,339.6 545.6,340.8 546.5,342.0"/>
<polyline stroke-width="2.25" points="546.5,342.0 547.4,343.2 548.2,344.4 549.1,345.8 549.9,347.2 550.7,348.6"/>
<polyline stroke-width="2.5" points="550.7,348.6 551.4,349.9 552.1,351.4 552.7,352.8 553.3,354.2"/>
<polyline stroke-width="2.75" points="553.3,354.2 553.8,355.6 554.3,357.1 554.8,358.5 555.3,359.9"/>
<polyline stroke-width="2.5" points="555.3,359.9 555.8,361.4 556.2,362.9 556.5,364.3 556.9,365.7"/>
<polyline stroke-width="2.25" points="556.9,365.7 557.4,367.1 558.0,368.6"/>
<polyline stroke-width="2" points="558.0,368.6 558.7,370.0 559.4,371.4 560.0,372.8"/>
<polyline stroke-width="1.75" points="560.0,372.8 560.7,374.2 561.3,375.7 561.9,377.1 562.7,378.5"/>
<polyline stroke-width="1.5" points="562.7,378.5 563.7,380.0 564.8,381.4 565.9,382.8"/>
<polyline stroke-width="1.25" points="565.9,382.8 567.0,384.2 568.0,385.7 569.1,387.2 570.1,388.6 571.3,389.9 572.6,391.0 574.1,392.0 575.5,392.9 577.0,393.8 578.4,394.8 579.7,395.8 581.1,396.8 582.7,397.7 584.1,398.3 585.7,398.9 587.4,399.5 589.2,400.0 590.9,400.5 592.6,400.9 594.1,401.3 595.6,401.7 597.0,402.0 598.4,402.3 599.8,402.5 601.3,402.7 602.9,402.8 604.5,402.8 606.2,402.8 607.9,402.8 609.6,402.7 611.3,402.7 612.9,402.7 614.6,402.7 616.3,402.7 617.9,402.7 619.6,402.7 621.3,402.7 622.9,402.7 624.6,402.7 626.2,402.7 627.9,402.7 629.6,402.7 631.2,402.7 632.9,402.7 634.6,402.7 636.2,402.7 637.9,402.7 639.6,402.7 641.2,402.7 643.1,402.7 645.3,402.7 647.5,402.7 649.4,402.7 650.7,402.7 651.2,402.7"/>
</g>
<polygon points="11.1,529.8 11.5,529.8 12.7,529.8 14.4,529.8 16.5,529.8 18.7,529.8 20.8,529.8 22.7,529.8 24.3,529.8 26.0,529.8 27.6,529.8 29.3,529.8 30.9,529.8 32.6,529.8 34.2,529.8 35.9,529.8 37.5,529.8 39.2,529.8 40.8,529.8 42.5,529.8 44.1,529.8 45.8,529.8 47.4,529.8 49.1,529.8 50.7,529.8 52.4,529.8 54.0,529.8 55.7,529.8 57.3,529.8 59.0,529.8 60.6,529.8 62.3,529.8 63.9,529.8 65.6,529.8 67.3,529.8 68.9,529.8 70.6,529.8 72.2,529.8 73.9,529.8 75.5,529.8 77.2,529.8 78.8,529.8 80.5,529.8 82.1,529.8 83.8,529.8 85.4,529.8 87.1,529.8 88.7,529.8 90.4,529.8 92.0,529.8 93.7,529.8 95.3,529.8 97.0,529.8 98.6,529.8 100.3,529.8 101.9,529.8 103.6,529.8 105.2,529.8 106.9,529.8 108.5,529.8 110.2,529.8 111.8,529.8 113.5,529.8 115.1,529.8 116.8,529.8 118.5,529.8 120.1,529.8 121.8,529.8 123.4,529.8 125.1,529.8 126.7,529.8 128.4,529.8 130.0,529.8 131.7,529.8 133.3,529.8 135.0,529.8 136.6,529.8 138.3,529.8 139.9,529.8 141.6,529.8 143.2,529.8 144.9,529.8 146.5,529.8 148.2,529.8 149.8,529.8 151.5,529.8 153.1,529.8 154.8,529.8 156.4,529.8 158.1,529.8 159.7,529.8 161.4,529.8 163.0,529.8 164.7,529.8 166.3,529.8 168.0,529.8 169.6,529.8 171.3,529.8 173.0,529.8 174.6,529.8 176.3,529.8 177.9,529.8 179.6,529.8 181.2,529.8 182.9,529.8 184.5,529.8 186.2,529.8 187.8,529.8 189.5,529.8 191.1,529.8 192.8,529.8 194.4,529.8 196.1,529.8 197.7,529.8 199.4,529.8 201.0,529.8 202.7,529.8 204.3,529.8 206.0,529.8 207.6,529.8 209.3,529.8 210.9,529.8 212.6,529.8 214.2,529.8 215.9,529.8 217.5,529.8 219.2,529.8 220.8,529.8 222.5,529.8 224.2,529.8 225.8,529.8 227.5,529.8 229.1,529.8 230.8,529.8 232.4,529.8 234.1,529.8 235.7,529.8 237.4,529.8 239.0,529.8 240.7,529.8 242.3,529.8 244.0,529.8 245.6,529.8 247.3,529.8 248.9,529.8 250.6,529.8 252.2,529.8 253.9,529.8 255.5,529.8 257.2,529.8 258.8,529.8 260.5,529.8 262.1,529.8 263.8,529.8 265.4,529.8 267.1,529.8 268.8,529.8 270.5,529.8 272.2,529.9 273.9,529.9 275.5,529.8 277.0,529.8 278.5,529.7 280.0,529.6 281.4,529.5 282.8,529.4 284.2,529.2 285.6,529.1 287.0,529.1 288.4,529.0 289.9,528.8 291.4,528.7 293.0,528.5 294.7,528.3 296.4,528.1 298.1,527.9 299.8,527.6 301.4,527.3 302.9,527.0 304.4,526.6 305.8,526.2 307.1,525.8 308.5,525.4 310.0,525.0 311.4,524.7 312.9,524.3 314.3,523.9 315.7,523.5 317.3,523.0 318.9,522.4 320.5,521.8 322.1,521.2 323.7,520.6 325.3,520.0 326.9,519.4 328.5,518.9 330.1,518.5 331.7,518.2 333.3,517.9 334.9,517.6 336.5,517.3 338.0,517.0 339.6,516.6 341.3,516.3 342.9,516.0 344.5,515.6 346.3,515.1 348.0,514.8 349.7,514.4 351.3,514.2 353.2,514.0 354.9,513.9 356.7,514.0 358.5,514.2 359.9,514.6 361.3,515.2 362.7,516.0 364.1,516.7 365.5,517.1 367.0,517.3 368.4,517.1 369.9,516.6 371.4,515.9 372.8,515.1 374.3,514.3 375.7,513.5 377.0,512.8 378.7,512.0 380.3,511.2 381.8,510.4 383.4,509.5 385.0,508.8 386.7,508.1 388.3,507.3 389.8,506.3 391.0,505.2 392.2,504.0 393.4,502.7 394.5,501.3 395.5,499.9 396.3,498.5 397.1,496.9 397.7,495.3 398.2,493.7 398.8,492.1 399.4,490.4 400.1,488.9 400.7,487.2 401.3,485.6 401.8,484.2 402.2,482.8 402.6,481.4 403.0,479.9 403.4,478.5 403.8,477.1 404.2,475.7 404.6,474.3 405.1,472.8 405.5,471.4 406.0,469.9 406.5,468.3 407.0,466.7 407.5,465.1 408.0,463.5 408.5,462.0 409.0,460.4 409.5,458.8 410.0,457.3 410.5,455.7 411.0,454.1 411.4,452.6 411.8,451.0 412.2,449.4 412.6,447.9 413.1,446.3 413.5,444.8 413.9,443.2 414.3,441.6 414.8,440.0 415.3,438.6 415.8,437.2 416.3,435.7 416.8,434.2 417.4,432.7 417.9,431.3 418.3,430.0 418.8,428.3 419.3,426.7 419.7,425.1 420.1,423.5 420.6,421.9 421.1,420.3 421.5,418.6 422.0,417.0 422.4,415.6 422.8,414.2 423.2,412.7 423.6,411.3 424.0,409.9 424.4,408.4 424.8,407.0 425.2,405.6 425.6,404.2 426.0,402.7 426.4,401.1 426.8,399.5 427.2,397.8 427.6,396.2 428.1,394.5 428.5,392.8 429.0,391.1 429.5,389.5 430.0,387.8 430.5,386.1 431.0,384.5 431.5,383.0 432.0,381.5 432.5,380.0 433.0,378.6 433.6,377.2 434.2,375.7 434.8,374.2 435.5,372.6 436.1,371.0 436.9,369.4 437.6,368.1 438.5,367.0 439.8,365.9 441.3,365.2 442.8,365.0 443.9,365.5 445.1,366.6 446.2,367.9 447.4,369.1 448.5,370.0 449.9,370.7 451.3,371.2 452.8,371.4 454.5,371.0 456.1,370.2 457.7,370.0 459.0,370.7 460.2,371.9 461.3,373.5 461.9,374.7 462.4,376.1 462.8,377.6 463.2,379.2 463.5,380.9 463.9,382.6 464.2,384.2 464.5,385.8 464.8,387.5 465.1,389.3 465.4,391.0 465.7,392.6 466.0,394.2 466.3,395.6 466.8,397.5 467.2,399.3 467.8,400.8 468.4,401.4 469.1,400.7 470.0,398.9 470.9,397.0 472.0,395.6 473.5,395.0 475.3,394.8 477.0,394.9 478.5,395.3 480.0,395.9 481.4,396.8 482.7,397.8 483.7,398.9 484.7,400.1 485.5,401.4 486.3,402.8 487.0,404.2 487.6,405.6 488.0,407.0 488.4,408.4 488.8,409.9 489.1,411.4 489.6,412.8 490.0,414.2 490.4,415.6 490.9,417.0 491.3,418.5 491.8,420.0 492.3,421.6 492.8,423.2 493.3,424.8 493.8,426.4 494.3,427.9 494.8,429.5 495.3,431.1 495.8,432.7 496.3,434.2 496.7,435.8 497.1,437.4 497.5,438.9 498.0,440.0 499.8,441.5 500.8,442.4 502.0,443.4 503.3,444.6 504.5,445.8 505.5,447.0 506.2,448.4 506.8,449.8 507.2,451.3 507.7,452.8 508.2,454.1 508.8,455.5 509.3,456.9 509.9,458.5 510.4,459.9 510.9,461.4 511.4,463.0 512.0,464.7 512.6,466.3 513.3,467.8 514.2,469.2 515.2,470.4 516.5,471.5 517.9,472.5 519.3,473.5 520.6,474.4 521.8,475.4 522.8,476.4 523.7,477.7 524.4,479.1 525.0,480.4 525.6,481.8 526.4,483.1 527.1,484.4 527.8,485.7 528.5,487.1 529.2,488.7 529.9,490.3 530.6,491.9 531.4,493.5 532.0,495.1 532.7,496.8 533.4,498.4 534.2,499.9 535.2,501.2 536.2,502.5 537.4,503.7 538.5,504.9 539.5,506.2 540.5,507.4 541.6,508.7 542.7,509.9 543.9,511.2 545.2,512.4 546.4,513.7 547.7,514.9 548.9,516.2 550.0,517.5 551.3,518.7 552.7,519.9 553.9,520.7 555.2,521.5 556.6,522.2 558.1,523.0 559.6,523.6 561.2,524.3 562.7,524.9 564.3,525.5 565.9,526.0 567.5,526.5 569.2,527.0 570.9,527.4 572.5,527.8 574.1,528.2 575.8,528.6 577.4,528.9 579.1,529.2 580.7,529.4 582.4,529.6 584.1,529.8 585.7,529.9 587.2,529.9 588.8,529.9 590.5,529.9 592.1,529.9 593.7,529.8 595.3,529.8 596.9,529.8 598.5,529.8 600.1,529.8 601.7,529.8 603.3,529.8 604.9,529.8 606.5,529.8 608.1,529.8 609.7,529.8 611.3,529.8 612.9,529.8 614.5,529.8 616.1,529.8 617.7,529.8 619.2,529.8 620.8,529.8 622.4,529.8 624.0,529.8 625.6,529.8 627.2,529.8 628.8,529.8 630.4,529.8 632.0,529.8 633.6,529.8 635.2,529.8 636.8,529.8 638.4,529.8 640.0,529.8 641.8,529.8 643.9,529.8 646.0,529.8 648.0,529.8 649.6,529.8 650.8,529.8 651.2,529.8 651.2,528.9 11.1,528.9" fill="#06cafc" fill-opacity="0.4"/>
<g fill="none" stroke="#08c6fa" stroke-linejoin="round" stroke-linecap="round">
<polyline stroke-width="1.25" points="11.1,529.8 11.5,529.8 12.7,529.8 14.4,529.8 16.5,529.8 18.7,529.8 20.8,529.8 22.7,529.8 24.3,529.8 26.0,529.8 27.6,529.8 29.3,529.8 30.9,529.8 32.6,529.8 34.2,529.8 35.9,529.8 37.5,529.8 39.2,529.8 40.8,529.8 42.5,529.8 44.1,529.8 45.8,529.8 47.4,529.8 49.1,529.8 50.7,529.8 52.4,529.8 54.0,529.8 55.7,529.8 57.3,529.8 59.0,529.8 60.6,529.8 62.3,529.8 63.9,529.8 65.6,529.8 67.3,529.8 68.9,529.8 70.6,529.8 72.2,529.8 73.9,529.8 75.5,529.8 77.2,529.8 78.8,529.8 80.5,529.8 82.1,529.8 83.8,529.8 85.4,529.8 87.1,529.8 88.7,529.8 90.4,529.8 92.0,529.8 93.7,529.8 95.3,529.8 97.0,529.8 98.6,529.8 100.3,529.8 101.9,529.8 103.6,529.8 105.2,529.8 106.9,529.8 108.5,529.8 110.2,529.8 111.8,529.8 113.5,529.8 115.1,529.8 116.8,529.8 118.5,529.8 120.1,529.8 121.8,529.8 123.4,529.8 125.1,529.8 126.7,529.8 128.4,529.8 130.0,529.8 131.7,529.8 133.3,529.8 135.0,529.8 136.6,529.8 138.3,529.8 139.9,529.8 141.6,529.8 143.2,529.8 144.9,529.8 146.5,529.8 148.2,529.8 149.8,529.8 151.5,529.8 153.1,529.8 154.8,529.8 156.4,529.8 158.1,529.8 159.7,529.8 161.4,529.8 163.0,529.8 164.7,529.8 166.3,529.8 168.0,529.8 169.6,529.8 171.3,529.8 173.0,529.8 174.6,529.8 176.3,529.8 177.9,529.8 179.6,529.8 181.2,529.8 182.9,529.8 184.5,529.8 186.2,529.8 187.8,529.8 189.5,529.8 191.1,529.8 192.8,529.8 194.4,529.8 196.1,529.8 197.7,529.8 199.4,529.8 201.0,529.8 202.7,529.8 204.3,529.8 206.0,529.8 207.6,529.8 209.3,529.8 210.9,529.8 212.6,529.8 214.2,529.8 215.9,529.8 217.5,529.8 219.2,529.8 220.8,529.8 222.5,529.8 224.2,529.8 225.8,529.8 227.5,529.8 229.1,529.8 230.8,529.8 232.4,529.8 234.1,529.8 235.7,529.8 237.4,529.8 239.0,529.8 240.7,529.8 242.3,529.8 244.0,529.8 245.6,529.8 247.3,529.8 248.9,529.8 250.6,529.8 252.2,529.8 253.9,529.8 255.5,529.8 257.2,529.8 258.8,529.8 260.5,529.8 262.1,529.8 263.8,529.8 265.4,529.8 267.1,529.8 268.8,529.8 270.5,529.8 272.2,529.9 273.9,529.9 275.5,529.8 277.0,529.8 278.5,529.7 280.0,529.6 281.4,529.5 282.8,529.4 284.2,529.2 285.6,529.1 287.0,529.1 288.4,529.0 289.9,528.8 291.4,528.7 293.0,528.5 294.7,528.3 296.4,528.1 298.1,527.9 299.8,527.6 301.4,527.3 302.9,527.0 304.4,526.6 305.8,526.2 307.1,525.8 308.5,525.4 310.0,525.0 311.4,524.7 312.9,524.3 314.3,523.9 315.7,523.5 317.3,523.0 318.9,522.4 320.5,521.8 322.1,521.2 323.7,520.6 325.3,520.0 326.9,519.4 328.5,518.9 330.1,518.5 331.7,518.2 333.3,517.9 334.9,517.6 336.5,517.3 338.0,517.0 339.6,516.6 341.3,516.3 342.9,516.0 344.5,515.6 346.3,515.1 348.0,514.8 349.7,514.4 351.3,514.2 353.2,514.0 354.9,513.9 356.7,514.0 358.5,514.2 359.9,514.6 361.3,515.2 362.7,516.0 364.1,516.7 365.5,517.1 367.0,517.3 368.4,517.1 369.9,516.6 371.4,515.9 372.8,515.1 374.3,514.3 375.7,513.5 377.0,512.8 378.7,512.0 380.3,511.2 381.8,510.4 383.4,509.5 385.0,508.8 386.7,508.1 388.3,507.3 389.8,506.3"/>
<polyline stroke-width="1.5" points="389.8,506.3 391.0,505.2 392.2,504.0 393.4,502.7 394.5,501.3"/>
<polyline stroke-width="1.75" points="394.5,501.3 395.5,499.9 396.3,498.5"/>
<polyline stroke-width="2" points="396.3,498.5 397.1,496.9 397.7,495.3"/>
<polyline stroke-width="2.25" points="397.7,495.3 398.2,493.7 398.8,492.1 399.4,490.4"/>
<polyline stroke-width="2.5" points="399.4,490.4 400.1,488.9 400.7,487.2 401.3,485.6"/>
<polyline stroke-width="2.75" points="401.3,485.6 401.8,484.2 402.2,482.8 402.6,481.4 403.0,479.9 403.4,478.5 403.8,477.1 404.2,475.7 404.6,474.3 405.1,472.8 405.5,471.4 406.0,469.9 406.5,468.3 407.0,466.7 407.5,465.1 408.0,463.5 408.5,462.0 409.0,460.4 409.5,458.8 410.0,457.3 410.5,455.7 411.0,454.1 411.4,452.6 411.8,451.0 412.2,449.4 412.6,447.9 413.1,446.3 413.5,444.8 413.9,443.2 414.3,441.6 414.8,440.0 415.3,438.6 415.8,437.2 416.3,435.7 416.8,434.2 417.4,432.7 417.9,431.3 418.3,430.0 418.8,428.3 419.3,426.7 419.7,425.1"/>
<polyline stroke-width="3" points="419.7,425.1 420.1,423.5 420.6,421.9 421.1,420.3 421.5,418.6 422.0,417.0 422.4,415.6 422.8,414.2 423.2,412.7 423.6,411.3 424.0,409.9 424.4,408.4 424.8,407.0 425.2,405.6 425.6,404.2 426.0,402.7 426.4,401.1 426.8,399.5 427.2,397.8 427.6,396.2 428.1,394.5 428.5,392.8 429.0,391.1 429.5,389.5 430.0,387.8 430.5,386.1 431.0,384.5 431.5,383.0 432.0,381.5 432.5,380.0 433.0,378.6 433.6,377.2 434.2,375.7 434.8,374.2 435.5,372.6 436.1,371.0 436.9,369.4 437.6,368.1 438.5,367.0 439.8,365.9 441.3,365.2 442.8,365.0 443.9,365.5 445.1,366.6 446.2,367.9 447.4,369.1 448.5,370.0 449.9,370.7 451.3,371.2 452.8,371.4 454.5,371.0 456.1,370.2 457.7,370.0 459.0,370.7 460.2,371.9 461.3,373.5 461.9,374.7 462.4,376.1 462.8,377.6 463.2,379.2 463.5,380.9 463.9,382.6 464.2,384.2 464.5,385.8 464.8,387.5 465.1,389.3 465.4,391.0 465.7,392.6 466.0,394.2 466.3,395.6 466.8,397.5 467.2,399.3 467.8,400.8 468.4,401.4 469.1,400.7 470.0,398.9 470.9,397.0 472.0,395.6 473.5,395.0 475.3,394.8 477.0,394.9 478.5,395.3 480.0,395.9 481.4,396.8 482.7,397.8 483.7,398.9 484.7,400.1 485.5,401.4 486.3,402.8 487.0,404.2 487.6,405.6 488.0,407.0 488.4,408.4 488.8,409.9 489.1,411.4 489.6,412.8 490.0,414.2 490.4,415.6 490.9,417.0 491.3,418.5 491.8,420.0 492.3,421.6 492.8,423.2 493.3,424.8"/>
<polyline stroke-width="2.75" points="493.3,424.8 493.8,426.4 494.3,427.9 494.8,429.5 495.3,431.1 495.8,432.7 496.3,434.2 496.7,435.8 497.1,437.4 497.5,438.9"/>
<polyline stroke-width="2.5" points="497.5,438.9 498.0,440.0 499.8,441.5"/>
<polyline stroke-width="2.25" points="499.8,441.5 500.8,442.4 502.0,443.4 503.3,444.6 504.5,445.8 505.5,447.0"/>
<polyline stroke-width="2.5" points="505.5,447.0 506.2,448.4 506.8,449.8 507.2,451.3"/>
<polyline stroke-width="2.75" points="507.2,451.3 507.7,452.8 508.2,454.1 508.8,455.5 509.3,456.9 509.9,458.5 510.4,459.9 510.9,461.4 511.4,463.0 512.0,464.7"/>
<polyline stroke-width="2.5" points="512.0,464.7 512.6,466.3"/>
<polyline stroke-width="2.25" points="512.6,466.3 513.3,467.8 514.2,469.2"/>
<polyline stroke-width="2" points="514.2,469.2 515.2,470.4"/>
<polyline stroke-width="1.75" points="515.2,470.4 516.5,471.5 517.9,472.5 519.3,473.5 520.6,474.4 521.8,475.4"/>
<polyline stroke-width="2" points="521.8,475.4 522.8,476.4 523.7,477.7"/>
<polyline stroke-width="2.25" points="523.7,477.7 524.4,479.1 525.0,480.4"/>
<polyline stroke-width="2.5" points="525.0,480.4 525.6,481.8 526.4,483.1 527.1,484.4 527.8,485.7 528.5,487.1"/>
<polyline stroke-width="2.25" points="528.5,487.1 529.2,488.7 529.9,490.3 530.6,491.9 531.4,493.5 532.0,495.1"/>
<polyline stroke-width="2" points="532.0,495.1 532.7,496.8 533.4,498.4"/>
<polyline stroke-width="1.75" points="533.4,498.4 534.2,499.9 535.2,501.2 536.2,502.5"/>
<polyline stroke-width="1.5" points="536.2,502.5 537.4,503.7 538.5,504.9 539.5,506.2 540.5,507.4 541.6,508.7"/>
<polyline stroke-width="1.25" points="541.6,508.7 542.7,509.9 543.9,511.2 545.2,512.4 546.4,513.7 547.7,514.9 548.9,516.2 550.0,517.5 551.3,518.7 552.7,519.9 553.9,520.7 555.2,521.5 556.6,522.2 558.1,523.0 559.6,523.6 561.2,524.3 562.7,524.9 564.3,525.5 565.9,526.0 567.5,526.5 569.2,527.0 570.9,527.4 572.5,527.8 574.1,528.2 575.8,528.6 577.4,528.9 579.1,529.2 580.7,529.4 582.4,529.6 584.1,529.8 585.7,529.9 587.2,529.9 588.8,529.9 590.5,529.9 592.1,529.9 593.7,529.8 595.3,529.8 596.9,529.8 598.5,529.8 600.1,529.8 601.7,529.8 603.3,529.8 604.9,529.8 606.5,529.8 608.1,529.8 609.7,529.8 611.3,529.8 612.9,529.8 614.5,529.8 616.1,529.8 617.7,529.8 619.2,529.8 620.8,529.8 622.4,529.8 624.0,529.8 625.6,529.8 627.2,529.8 628.8,529.8 630.4,529.8 632.0,529.8 633.6,529.8 635.2,529.8 636.8,529.8 638.4,529.8 640.0,529.8 641.8,529.8 643.9,529.8 646.0,529.8 648.0,529.8 649.6,529.8 650.8,529.8 651.2,529.8"/>
</g>
<polygon points="11.0,656.5 11.4,656.5 12.7,656.5 14.4,656.5 16.5,656.5 18.7,656.5 20.9,656.5 22.8,656.5 24.5,656.5 26.2,656.5 27.9,656.5 29.6,656.5 31.2,656.5 32.9,656.5 34.6,656.5 36.3,656.5 38.0,656.5 39.7,656.5 41.4,656.5 43.0,656.5 44.7,656.5 46.4,656.5 48.1,656.5 49.8,656.5 51.5,656.5 53.2,656.5 54.9,656.5 56.5,656.5 58.2,656.5 59.9,656.5 61.6,656.5 63.3,656.5 65.0,656.5 66.7,656.5 68.4,656.5 70.0,656.5 71.7,656.5 73.4,656.5 75.1,656.5 76.8,656.5 78.5,656.5 80.2,656.5 81.8,656.5 83.5,656.5 85.2,656.5 86.9,656.5 88.6,656.5 90.3,656.5 92.0,656.5 93.7,656.5 95.3,656.5 97.0,656.5 98.7,656.5 100.4,656.5 102.1,656.5 103.8,656.5 105.5,656.5 107.1,656.5 108.8,656.5 110.5,656.5 112.2,656.5 113.9,656.5 115.6,656.5 117.3,656.5 119.0,656.5 120.6,656.5 122.3,656.5 124.0,656.5 125.7,656.5 127.4,656.5 129.1,656.5 130.8,656.5 132.5,656.5 134.1,656.5 135.8,656.5 137.5,656.5 139.2,656.5 140.9,656.5 142.6,656.5 144.3,656.5 145.9,656.5 147.6,656.5 149.3,656.5 151.0,656.5 152.7,656.5 154.4,656.5 156.1,656.5 157.8,656.5 159.4,656.5 161.1,656.5 162.8,656.5 164.5,656.5 166.2,656.5 167.9,656.5 169.6,656.5 171.2,656.5 172.9,656.5 174.6,656.5 176.3,656.5 178.0,656.5 179.7,656.5 181.4,656.5 183.1,656.5 184.7,656.5 186.4,656.5 188.1,656.5 189.8,656.5 191.5,656.5 193.2,656.5 194.9,656.5 196.5,656.5 198.2,656.5 199.9,656.5 201.6,656.5 203.3,656.5 205.0,656.5 206.7,656.5 208.4,656.5 210.0,656.5 211.7,656.5 213.4,656.5 215.1,656.5 216.8,656.5 218.5,656.5 220.2,656.5 221.9,656.5 223.5,656.5 225.2,656.5 226.9,656.5 228.6,656.5 230.3,656.5 232.0,656.5 233.7,656.5 235.3,656.5 237.0,656.5 238.7,656.5 240.4,656.5 242.1,656.5 243.8,656.5 245.5,656.5 247.2,656.5 248.8,656.5 250.5,656.5 252.2,656.5 253.9,656.5 255.6,656.5 257.3,656.5 259.0,656.5 260.6,656.5 262.3,656.5 264.0,656.5 265.7,656.5 267.4,656.5 269.1,656.5 270.8,656.5 272.5,656.5 274.1,656.5 275.8,656.5 277.5,656.5 279.2,656.5 280.9,656.5 282.6,656.5 284.3,656.5 286.0,656.5 287.6,656.5 289.3,656.5 291.0,656.5 292.7,656.5 294.4,656.5 296.1,656.5 297.8,656.5 299.4,656.5 301.1,656.5 302.8,656.5 304.5,656.5 306.2,656.5 307.9,656.5 309.6,656.6 311.3,656.6 313.1,656.6 314.7,656.6 316.4,656.6 318.0,656.5 319.6,656.3 321.1,656.1 322.6,655.9 324.1,655.6 325.5,655.3 327.0,655.0 328.7,654.6 330.5,654.2 332.2,653.7 333.8,653.2 335.4,652.7 337.0,652.1 338.4,651.4 339.8,650.7 341.4,650.0 342.7,649.5 344.2,649.1 345.7,648.6 347.1,648.2 348.6,647.8 350.0,647.3 351.5,646.7 352.9,646.1 354.3,645.4 355.7,644.9 357.1,644.5 358.6,644.3 360.2,644.2 361.8,644.3 363.4,644.3 365.0,644.3 366.5,644.3 368.0,644.3 369.6,644.3 371.1,644.2 372.8,644.1 374.3,643.9 375.9,643.5 377.5,643.2 379.2,642.7 380.9,642.3 382.6,641.9 384.2,641.6 385.9,641.4 387.6,641.2 389.3,641.1 391.0,640.9 392.7,640.7 394.2,640.4 395.6,639.9 396.9,639.1 398.1,638.1 399.2,637.1 400.2,636.0 401.3,634.9 402.4,633.9 403.6,632.9 404.8,631.9 405.9,630.9 407.0,629.9 408.3,628.7 409.5,627.4 410.8,626.2 412.0,624.9 413.3,623.7 414.6,622.5 415.9,621.3 417.0,619.9 417.9,618.4 418.6,616.8 419.2,615.1 419.9,613.5 420.5,611.9 421.2,610.3 421.9,608.7 422.7,607.0 423.4,605.6 424.2,604.2 425.1,602.8 426.0,601.3 426.8,599.9 427.7,598.5 428.5,597.0 429.4,595.6 430.2,594.2 431.1,592.8 431.9,591.3 432.7,589.9 433.5,588.5 434.2,587.1 434.9,585.6 435.6,584.2 436.3,582.8 437.0,581.3 437.7,579.9 438.5,578.5 439.2,577.2 439.9,575.7 440.6,574.3 441.3,572.8 441.9,571.3 442.4,569.9 442.9,568.3 443.4,566.8 443.9,565.2 444.4,563.6 444.9,562.1 445.4,560.5 445.9,558.9 446.4,557.3 446.9,555.7 447.4,554.2 447.9,552.7 448.4,551.4 449.1,549.8 449.8,548.4 450.5,547.1 451.2,545.7 452.0,544.3 452.7,542.9 453.4,541.5 454.1,540.0 454.7,538.6 455.3,537.2 456.0,535.7 456.5,534.2 457.1,532.8 457.7,531.2 458.2,529.6 458.7,528.0 459.2,526.3 459.8,524.7 460.4,523.1 460.9,521.5 461.4,519.9 461.8,518.5 462.1,517.1 462.5,515.7 462.8,514.2 463.1,512.8 463.5,511.3 463.7,509.9 464.0,508.4 464.4,507.0 464.9,505.7 465.6,504.3 466.5,503.0 467.4,501.8 468.5,501.1 469.8,500.9 471.3,501.1 472.8,501.4 474.2,501.5 475.7,501.6 477.2,501.9 478.5,502.5 479.6,503.6 480.5,505.1 481.3,506.8 482.1,508.5 482.8,510.0 483.4,511.7 484.0,513.3 484.7,514.9 485.6,516.4 486.6,517.6 487.8,518.8 489.0,520.0 490.3,521.0 491.6,521.7 492.8,522.1 494.5,521.7 496.1,520.6 497.7,519.9 499.2,519.7 500.7,519.7 502.0,520.2 502.8,521.1 503.4,522.4 503.9,523.9 504.4,525.5 504.9,527.1 505.4,528.5 505.8,529.9 506.2,531.4 506.7,533.0 507.1,534.4 507.7,535.8 508.4,537.0 509.4,538.2 510.6,539.1 511.9,539.9 513.1,540.9 514.1,542.0 514.9,543.3 515.6,544.8 516.2,546.4 516.7,548.1 517.2,549.7 517.7,551.3 518.1,552.7 518.5,554.2 518.8,555.6 519.2,557.0 519.5,558.4 519.9,559.8 520.2,561.3 520.4,562.7 520.7,564.2 521.0,565.6 521.4,567.0 522.0,568.4 522.9,569.8 524.0,571.2 525.2,572.6 526.6,573.9 527.8,575.1 528.9,576.2 529.8,577.0 531.4,578.5 532.1,579.8 532.8,581.4 533.5,583.2 534.2,585.0 535.0,586.5 535.7,588.1 536.4,589.7 537.1,591.4 537.6,592.7 538.1,594.2 538.5,595.6 539.0,597.1 539.5,598.5 540.0,600.0 540.4,601.4 540.9,602.8 541.4,604.2 541.9,605.6 542.3,607.1 542.8,608.5 543.3,609.9 543.8,611.4 544.2,612.8 544.7,614.2 545.2,615.6 545.6,617.0 546.1,618.5 546.6,620.0 547.0,621.4 547.5,622.9 548.0,624.3 548.5,625.6 549.3,627.2 550.2,628.7 551.1,630.2 552.0,631.7 552.9,633.2 553.7,634.7 554.5,636.2 555.6,637.7 556.6,638.8 557.7,640.0 559.0,641.2 560.3,642.3 561.7,643.5 563.0,644.6 564.2,645.6 565.4,646.6 566.6,647.6 567.7,648.6 568.9,649.5 570.1,650.4 571.3,651.3 572.6,652.2 574.0,653.1 575.4,653.9 576.9,654.7 578.4,655.4 579.9,655.9 581.5,656.2 583.2,656.4 584.9,656.5 586.6,656.5 588.3,656.5 590.0,656.5 591.5,656.5 593.0,656.5 594.5,656.5 596.0,656.5 597.4,656.5 598.9,656.5 600.4,656.5 601.9,656.5 603.4,656.5 604.9,656.5 606.4,656.5 607.9,656.5 609.4,656.5 610.9,656.5 612.4,656.5 613.8,656.5 615.3,656.5 616.8,656.5 618.3,656.5 619.8,656.5 621.3,656.5 622.8,656.5 624.3,656.5 625.8,656.5 627.3,656.5 628.8,656.5 630.2,656.5 631.7,656.5 633.2,656.5 634.7,656.5 636.2,656.5 637.7,656.5 639.2,656.5 640.7,656.5 642.2,656.5 643.8,656.5 645.8,656.5 647.7,656.5 649.6,656.5 651.1,656.5 652.2,656.5 652.6,656.5 652.6,656.2 11.0,656.2" fill="#ff3030" fill-opacity="0.4"/>
<g fill="none" stroke="#ff3030" stroke-linejoin="round" stroke-linecap="round">
<polyline stroke-width="1.25" points="11.0,656.5 11.4,656.5 12.7,656.5 14.4,656.5 16.5,656.5 18.7,656.5 20.9,656.5 22.8,656.5 24.5,656.5 26.2,656.5 27.9,656.5 29.6,656.5 31.2,656.5 32.9,656.5 34.6,656.5 36.3,656.5 38.0,656.5 39.7,656.5 41.4,656.5 43.0,656.5 44.7,656.5 46.4,656.5 48.1,656.5 49.8,656.5 51.5,656.5 53.2,656.5 54.9,656.5 56.5,656.5 58.2,656.5 59.9,656.5 61.6,656.5 63.3,656.5 65.0,656.5 66.7,656.5 68.4,656.5 70.0,656.5 71.7,656.5 73.4,656.5 75.1,656.5 76.8,656.5 78.5,656.5 80.2,656.5 81.8,656.5 83.5,656.5 85.2,656.5 86.9,656.5 88.6,656.5 90.3,656.5 92.0,656.5 93.7,656.5 95.3,656.5 97.0,656.5 98.7,656.5 100.4,656.5 102.1,656.5 103.8,656.5 105.5,656.5 107.1,656.5 108.8,656.5 110.5,656.5 112.2,656.5 113.9,656.5 115.6,656.5 117.3,656.5 119.0,656.5 120.6,656.5 122.3,656.5 124.0,656.5 125.7,656.5 127.4,656.5 129.1,656.5 130.8,656.5 132.5,656.5 134.1,656.5 135.8,656.5 137.5,656.5 139.2,656.5 140.9,656.5 142.6,656.5 144.3,656.5 145.9,656.5 147.6,656.5 149.3,656.5 151.0,656.5 152.7,656.5 154.4,656.5 156.1,656.5 157.8,656.5 159.4,656.5 161.1,656.5 162.8,656.5 164.5,656.5 166.2,656.5 167.9,656.5 169.6,656.5 171.2,656.5 172.9,656.5 174.6,656.5 176.3,656.5 178.0,656.5 179.7,656.5 181.4,656.5 183.1,656.5 184.7,656.5 186.4,656.5 188.1,656.5 189.8,656.5 191.5,656.5 193.2,656.5 194.9,656.5 196.5,656.5 198.2,656.5 199.9,656.5 201.6,656.5 203.3,656.5 205.0,656.5 206.7,656.5 208.4,656.5 210.0,656.5 211.7,656.5 213.4,656.5 215.1,656.5 216.8,656.5 218.5,656.5 220.2,656.5 221.9,656.5 223.5,656.5 225.2,656.5 226.9,656.5 228.6,656.5 230.3,656.5 232.0,656.5 233.7,656.5 235.3,656.5 237.0,656.5 238.7,656.5 240.4,656.5 242.1,656.5 243.8,656.5 245.5,656.5 247.2,656.5 248.8,656.5 250.5,656.5 252.2,656.5 253.9,656.5 255.6,656.5 257.3,656.5 259.0,656.5 260.6,656.5 262.3,656.5 264.0,656.5 265.7,656.5 267.4,656.5 269.1,656.5 270.8,656.5 272.5,656.5 274.1,656.5 275.8,656.5 277.5,656.5 279.2,656.5 280.9,656.5 282.6,656.5 284.3,656.5 286.0,656.5 287.6,656.5 289.3,656.5 291.0,656.5 292.7,656.5 294.4,656.5 296.1,656.5 297.8,656.5 299.4,656.5 301.1,656.5 302.8,656.5 304.5,656.5 306.2,656.5 307.9,656.5 309.6,656.6 311.3,656.6 313.1,656.6 314.7,656.6 316.4,656.6 318.0,656.5 319.6,656.3 321.1,656.1 322.6,655.9 324.1,655.6 325.5,655.3 327.0,655.0 328.7,654.6 330.5,654.2 332.2,653.7 333.8,653.2 335.4,652.7 337.0,652.1 338.4,651.4 339.8,650.7 341.4,650.0 342.7,649.5 344.2,649.1 345.7,648.6 347.1,648.2 348.6,647.8 350.0,647.3 351.5,646.7 352.9,646.1 354.3,645.4 355.7,644.9 357.1,644.5 358.6,644.3 360.2,644.2 361.8,644.3 363.4,644.3 365.0,644.3 366.5,644.3 368.0,644.3 369.6,644.3 371.1,644.2 372.8,644.1 374.3,643.9 375.9,643.5 377.5,643.2 379.2,642.7 380.9,642.3 382.6,641.9 384.2,641.6 385.9,641.4 387.6,641.2 389.3,641.1 391.0,640.9 392.7,640.7 394.2,640.4 395.6,639.9 396.9,639.1 398.1,638.1 399.2,637.1 400.2,636.0 401.3,634.9 402.4,633.9"/>
<polyline stroke-width="1.5" points="402.4,633.9 403.6,632.9 404.8,631.9 405.9,630.9 407.0,629.9 408.3,628.7 409.5,627.4 410.8,626.2 412.0,624.9 413.3,623.7"/>
<polyline stroke-width="1.75" points="413.3,623.7 414.6,622.5 415.9,621.3"/>
<polyline stroke-width="2" points="415.9,621.3 417.0,619.9 417.9,618.4"/>
<polyline stroke-width="2.25" points="417.9,618.4 418.6,616.8 419.2,615.1"/>
<polyline stroke-width="2.5" points="419.2,615.1 419.9,613.5 420.5,611.9 421.2,610.3 421.9,608.7 422.7,607.0 423.4,605.6 424.2,604.2"/>
<polyline stroke-width="2.25" points="424.2,604.2 425.1,602.8 426.0,601.3 426.8,599.9 427.7,598.5 428.5,597.0 429.4,595.6 430.2,594.2 431.1,592.8 431.9,591.3"/>
<polyline stroke-width="2.5" points="431.9,591.3 432.7,589.9 433.5,588.5 434.2,587.1 434.9,585.6 435.6,584.2 436.3,582.8 437.0,581.3 437.7,579.9 438.5,578.5 439.2,577.2 439.9,575.7 440.6,574.3 441.3,572.8"/>
<polyline stroke-width="2.75" points="441.3,572.8 441.9,571.3 442.4,569.9 442.9,568.3 443.4,566.8 443.9,565.2 444.4,563.6 444.9,562.1 445.4,560.5 445.9,558.9 446.4,557.3 446.9,555.7 447.4,554.2 447.9,552.7"/>
<polyline stroke-width="3" points="447.9,552.7 448.4,551.4 449.1,549.8 449.8,548.4 450.5,547.1 451.2,545.7 452.0,544.3 452.7,542.9 453.4,541.5 454.1,540.0 454.7,538.6 455.3,537.2 456.0,535.7 456.5,534.2 457.1,532.8 457.7,531.2 458.2,529.6 458.7,528.0 459.2,526.3 459.8,524.7 460.4,523.1 460.9,521.5 461.4,519.9 461.8,518.5 462.1,517.1 462.5,515.7 462.8,514.2 463.1,512.8 463.5,511.3 463.7,509.9 464.0,508.4 464.4,507.0 464.9,505.7 465.6,504.3 466.5,503.0 467.4,501.8 468.5,501.1 469.8,500.9 471.3,501.1 472.8,501.4 474.2,501.5 475.7,501.6 477.2,501.9 478.5,502.5 479.6,503.6 480.5,505.1 481.3,506.8 482.1,508.5 482.8,510.0 483.4,511.7 484.0,513.3 484.7,514.9 485.6,516.4 486.6,517.6 487.8,518.8 489.0,520.0 490.3,521.0 491.6,521.7 492.8,522.1 494.5,521.7 496.1,520.6 497.7,519.9 499.2,519.7 500.7,519.7 502.0,520.2 502.8,521.1 503.4,522.4 503.9,523.9 504.4,525.5 504.9,527.1 505.4,528.5 505.8,529.9 506.2,531.4 506.7,533.0 507.1,534.4 507.7,535.8 508.4,537.0 509.4,538.2 510.6,539.1 511.9,539.9 513.1,540.9 514.1,542.0 514.9,543.3 515.6,544.8 516.2,546.4 516.7,548.1 517.2,549.7 517.7,551.3 518.1,552.7 518.5,554.2 518.8,555.6 519.2,557.0 519.5,558.4 519.9,559.8 520.2,561.3 520.4,562.7"/>
<polyline stroke-width="2.75" points="520.4,562.7 520.7,564.2 521.0,565.6 521.4,567.0"/>
<polyline stroke-width="2.5" points="521.4,567.0 522.0,568.4 522.9,569.8"/>
<polyline stroke-width="2.25" points="522.9,569.8 524.0,571.2 525.2,572.6"/>
<polyline stroke-width="2" points="525.2,572.6 526.6,573.9 527.8,575.1 528.9,576.2"/>
<polyline stroke-width="2.25" points="528.9,576.2 529.8,577.0 531.4,578.5 532.1,579.8"/>
<polyline stroke-width="2.5" points="532.1,579.8 532.8,581.4 533.5,583.2 534.2,585.0 535.0,586.5 535.7,588.1 536.4,589.7"/>
<polyline stroke-width="2.75" points="536.4,589.7 537.1,591.4 537.6,592.7 538.1,594.2 538.5,595.6 539.0,597.1 539.5,598.5 540.0,600.0 540.4,601.4 540.9,602.8 541.4,604.2 541.9,605.6 542.3,607.1 542.8,608.5 543.3,609.9 543.8,611.4 544.2,612.8 544.7,614.2"/>
<polyline stroke-width="2.5" points="544.7,614.2 545.2,615.6 545.6,617.0 546.1,618.5 546.6,620.0"/>
<polyline stroke-width="2.25" points="546.6,620.0 547.0,621.4 547.5,622.9"/>
<polyline stroke-width="2" points="547.5,622.9 548.0,624.3 548.5,625.6 549.3,627.2"/>
<polyline stroke-width="1.75" points="549.3,627.2 550.2,628.7 551.1,630.2 552.0,631.7"/>
<polyline stroke-width="1.5" points="552.0,631.7 552.9,633.2 553.7,634.7 554.5,636.2 555.6,637.7 556.6,638.8"/>
<polyline stroke-width="1.25" points="556.6,638.8 557.7,640.0 559.0,641.2 560.3,642.3 561.7,643.5 563.0,644.6 564.2,645.6 565.4,646.6 566.6,647.6 567.7,648.6 568.9,649.5 570.1,650.4 571.3,651.3 572.6,652.2 574.0,653.1 575.4,653.9 576.9,654.7 578.4,655.4 579.9,655.9 581.5,656.2 583.2,656.4 584.9,656.5 586.6,656.5 588.3,656.5 590.0,656.5 591.5,656.5 593.0,656.5 594.5,656.5 596.0,656.5 597.4,656.5 598.9,656.5 600.4,656.5 601.9,656.5 603.4,656.5 604.9,656.5 606.4,656.5 607.9,656.5 609.4,656.5 610.9,656.5 612.4,656.5 613.8,656.5 615.3,656.5 616.8,656.5 618.3,656.5 619.8,656.5 621.3,656.5 622.8,656.5 624.3,656.5 625.8,656.5 627.3,656.5 628.8,656.5 630.2,656.5 631.7,656.5 633.2,656.5 634.7,656.5 636.2,656.5 637.7,656.5 639.2,656.5 640.7,656.5 642.2,656.5 643.8,656.5 645.8,656.5 647.7,656.5 649.6,656.5 651.1,656.5 652.2,656.5 652.6,656.5"/>
</g>
<polyline points="13.4,652 13.4,13.8 651.8,13.8 651.8,652" fill="none" stroke="#303030" stroke-width="1.7"/>
<g fill="#000">
<rect x="14.1" y="652" width="5.2" height="17.3"/>
<rect x="97.9" y="652" width="5.2" height="17.3"/>
<rect x="188.4" y="652" width="5.2" height="17.3"/>
<rect x="275.3" y="652" width="5.2" height="17.3"/>
<rect x="362.2" y="652" width="5.2" height="17.3"/>
<rect x="449.4" y="652" width="5.2" height="17.3"/>
<rect x="539.7" y="652" width="5.2" height="17.3"/>
<rect x="626.6" y="652" width="5.2" height="17.3"/>
<rect x="39.9" y="652" width="1.6" height="7"/>
<rect x="54.5" y="652" width="3" height="7"/>
<rect x="64.8" y="652" width="2" height="7"/>
<rect x="74.0" y="652" width="4" height="12"/>
<rect x="80.0" y="652" width="2" height="7"/>
<rect x="87.0" y="652" width="2" height="7"/>
<rect x="92.5" y="652" width="2" height="7"/>
<rect x="127.0" y="652" width="1.6" height="7"/>
<rect x="141.9" y="652" width="2.4" height="7"/>
<rect x="154.8" y="652" width="2" height="7"/>
<rect x="161.5" y="652" width="4" height="12"/>
<rect x="169.2" y="652" width="2.6" height="7"/>
<rect x="174.3" y="652" width="2.4" height="7"/>
<rect x="179.2" y="652" width="2" height="7"/>
<rect x="184.3" y="652" width="2" height="7"/>
<rect x="214.3" y="652" width="1.8" height="7"/>
<rect x="229.4" y="652" width="2" height="7"/>
<rect x="241.8" y="652" width="2" height="7"/>
<rect x="248.8" y="652" width="4" height="12"/>
<rect x="256.0" y="652" width="3" height="7"/>
<rect x="261.4" y="652" width="3" height="7"/>
<rect x="266.7" y="652" width="2" height="7"/>
<rect x="271.8" y="652" width="2" height="7"/>
<rect x="304.2" y="652" width="1.8" height="7"/>
<rect x="318.8" y="652" width="2.6" height="7"/>
<rect x="328.9" y="652" width="2" height="7"/>
<rect x="337.6" y="652" width="3.6" height="12"/>
<rect x="344.0" y="652" width="2" height="7"/>
<rect x="351.5" y="652" width="2" height="7"/>
<rect x="356.8" y="652" width="2" height="7"/>
<rect x="391.3" y="652" width="1.8" height="7"/>
<rect x="406.1" y="652" width="2.6" height="7"/>
<rect x="416.0" y="652" width="2" height="7"/>
<rect x="425.1" y="652" width="4" height="12"/>
<rect x="433.7" y="652" width="2.2" height="7"/>
<rect x="438.6" y="652" width="2" height="7"/>
<rect x="443.6" y="652" width="2" height="7"/>
<rect x="478.8" y="652" width="1.8" height="7"/>
<rect x="492.9" y="652" width="2.6" height="7"/>
<rect x="505.9" y="652" width="2" height="7"/>
<rect x="512.4" y="652" width="4" height="12"/>
<rect x="521.0" y="652" width="2.6" height="7"/>
<rect x="526.0" y="652" width="2" height="7"/>
<rect x="530.8" y="652" width="2" height="7"/>
<rect x="535.9" y="652" width="2" height="7"/>
<rect x="565.6" y="652" width="1.6" height="7"/>
<rect x="583.0" y="652" width="2" height="7"/>
<rect x="593.1" y="652" width="2" height="7"/>
<rect x="599.8" y="652" width="4" height="12"/>
<rect x="607.6" y="652" width="3" height="7"/>
<rect x="615.7" y="652" width="2.2" height="7"/>
<rect x="621.2" y="652" width="3.2" height="7"/>
</g>
<text x="25.9" y="706" font-family="'Liberation Serif', serif" font-size="23">10</text>
<text x="49.599999999999994" y="690.9" font-family="'Liberation Serif', serif" font-size="23">0</text>
<text x="190.9" y="706" font-family="'Liberation Serif', serif" font-size="23">10</text>
<text x="214.6" y="690.9" font-family="'Liberation Serif', serif" font-size="23">2</text>
<text x="364.0" y="706" font-family="'Liberation Serif', serif" font-size="23">10</text>
<text x="387.7" y="690.9" font-family="'Liberation Serif', serif" font-size="23">4</text>
<text x="542.5" y="706" font-family="'Liberation Serif', serif" font-size="23">10</text>
<text x="566.2" y="690.9" font-family="'Liberation Serif', serif" font-size="23">6</text>
<text x="231.4" y="751.2" font-family="'Liberation Serif', serif" font-size="26" letter-spacing="0.93">FL1-A :: FITC-A</text>
<!-- legend -->
<rect x="689" y="79.1" width="140.9" height="13.6" fill="#ccff99"/>
<rect x="689" y="271.8" width="140.9" height="12" fill="#ffcc99"/>
<rect x="690.8" y="438.7" width="141.3" height="12.9" fill="#99ffff"/>
<rect x="690.8" y="555" width="141.3" height="13.8" fill="#ff9999"/>
<text transform="translate(760.2,145) scale(1.045,1)" text-anchor="middle" font-family="'Liberation Sans', sans-serif" font-size="38.5">control</text>
<text transform="translate(761.3,342.9) scale(1.045,1)" text-anchor="middle" font-family="'Liberation Sans', sans-serif" font-size="38.5">H<tspan font-size="20.5">2</tspan>O<tspan font-size="20.5">2</tspan></text>
<text transform="translate(770.2,507) scale(1.045,1)" text-anchor="middle" font-family="'Liberation Sans', sans-serif" font-size="38.5">250 ug/mL</text>
<text transform="translate(771.2,621.2) scale(1.045,1)" text-anchor="middle" font-family="'Liberation Sans', sans-serif" font-size="38.5">1<tspan dx="-3.4">2</tspan>5 ug/mL</text>
<!-- bar chart -->
<line x1="1061.8" y1="489.7" x2="1061.8" y2="493.3" stroke="#333" stroke-width="2.2"/>
<line x1="1046.6" y1="489.7" x2="1076.9" y2="489.7" stroke="#3a3a3a" stroke-width="2.6"/>
<line x1="1152.9" y1="245.2" x2="1152.9" y2="248.0" stroke="#333" stroke-width="2.2"/>
<line x1="1138.4" y1="245.2" x2="1168.0" y2="245.2" stroke="#3a3a3a" stroke-width="2.6"/>
<line x1="1243.4" y1="396.0" x2="1243.4" y2="401.1" stroke="#333" stroke-width="2.2"/>
<line x1="1229.0" y1="396.0" x2="1257.8" y2="396.0" stroke="#3a3a3a" stroke-width="2.6"/>
<line x1="1335.2" y1="304.9" x2="1335.2" y2="315.4" stroke="#333" stroke-width="2.2"/>
<line x1="1319.3" y1="304.9" x2="1349.9" y2="304.9" stroke="#3a3a3a" stroke-width="2.6"/>
<rect x="1033.2" y="492.2" width="57.3" height="58.1" fill="#4040ff" stroke="#050505" stroke-width="2"/>
<rect x="1123.7" y="246.9" width="58.5" height="303.4" fill="#ff0000" stroke="#050505" stroke-width="2"/>
<rect x="1214.3" y="400.0" width="58.2" height="150.3" fill="#ff8000" stroke="#050505" stroke-width="2"/>
<rect x="1306.5" y="314.3" width="57.3" height="236.0" fill="#40ff40" stroke="#050505" stroke-width="2"/>
<line x1="1001.7" y1="154.6" x2="1001.7" y2="551.4" stroke="#0a0a0a" stroke-width="2"/>
<line x1="985.2" y1="550.3" x2="1395.6" y2="550.3" stroke="#0a0a0a" stroke-width="2"/>
<line x1="985.2" y1="471.4" x2="1001.7" y2="471.4" stroke="#0a0a0a" stroke-width="2"/>
<line x1="985.2" y1="392.5" x2="1001.7" y2="392.5" stroke="#0a0a0a" stroke-width="2"/>
<line x1="985.2" y1="313.6" x2="1001.7" y2="313.6" stroke="#0a0a0a" stroke-width="2"/>
<line x1="985.2" y1="234.7" x2="1001.7" y2="234.7" stroke="#0a0a0a" stroke-width="2"/>
<line x1="985.2" y1="155.8" x2="1001.7" y2="155.8" stroke="#0a0a0a" stroke-width="2"/>
<text x="981.3" y="560.3" text-anchor="end" font-family="'Liberation Sans', sans-serif" font-size="30.8">0</text>
<text x="981.3" y="481.4" text-anchor="end" font-family="'Liberation Sans', sans-serif" font-size="30.8">10</text>
<text x="981.3" y="402.5" text-anchor="end" font-family="'Liberation Sans', sans-serif" font-size="30.8">20</text>
<text x="981.3" y="323.6" text-anchor="end" font-family="'Liberation Sans', sans-serif" font-size="30.8">30</text>
<text x="981.3" y="244.7" text-anchor="end" font-family="'Liberation Sans', sans-serif" font-size="30.8">40</text>
<text x="981.3" y="165.8" text-anchor="end" font-family="'Liberation Sans', sans-serif" font-size="30.8">50</text>
<line x1="1062.1" y1="550.3" x2="1062.1" y2="566" stroke="#0a0a0a" stroke-width="2"/>
<line x1="1152.7" y1="550.3" x2="1152.7" y2="566" stroke="#0a0a0a" stroke-width="2"/>
<line x1="1243.5" y1="550.3" x2="1243.5" y2="566" stroke="#0a0a0a" stroke-width="2"/>
<line x1="1334.5" y1="550.3" x2="1334.5" y2="566" stroke="#0a0a0a" stroke-width="2"/>
<text x="963.3" y="123.8" font-family="'Liberation Sans', sans-serif" font-size="33">10</text>
<text x="998.3" y="108.4" font-family="'Liberation Sans', sans-serif" font-size="26">4</text>
<text transform="translate(930.1,513.7) rotate(-90)" font-family="'Liberation Sans', sans-serif" font-size="32.4">Fluorescence intensity</text>
<text transform="translate(1072.9,590.4) rotate(-45)" text-anchor="end" font-family="'Liberation Sans', sans-serif" font-size="30.7">control</text>
<text transform="translate(1163.5,590.4) rotate(-45)" text-anchor="end" font-family="'Liberation Sans', sans-serif" font-size="30.7">H2O2</text>
<text transform="translate(1254.3,590.4) rotate(-45)" text-anchor="end" font-family="'Liberation Sans', sans-serif" font-size="30.7">250 µg/mL</text>
<text transform="translate(1345.3,590.4) rotate(-45)" text-anchor="end" font-family="'Liberation Sans', sans-serif" font-size="30.7">1<tspan dx="-3.2">2</tspan>5<tspan dx="-1.6"> </tspan>µg/mL</text>
<polyline points="1152.8,149 1152.8,133.7 1334.9,133.7 1334.9,288.8" fill="none" stroke="#2a2a2a" stroke-width="2.2"/>
<polyline points="1152.8,197.2 1152.8,184 1243.5,184 1243.5,375.2" fill="none" stroke="#2a2a2a" stroke-width="2.2"/>
<text x="1246.7" y="136.2" text-anchor="middle" font-family="'Liberation Sans', sans-serif" font-size="30" letter-spacing="2.6">***</text>
<text x="1199.4" y="185.8" text-anchor="middle" font-family="'Liberation Sans', sans-serif" font-size="30" letter-spacing="2.6">***</text>
</svg>
</body>
</html>
